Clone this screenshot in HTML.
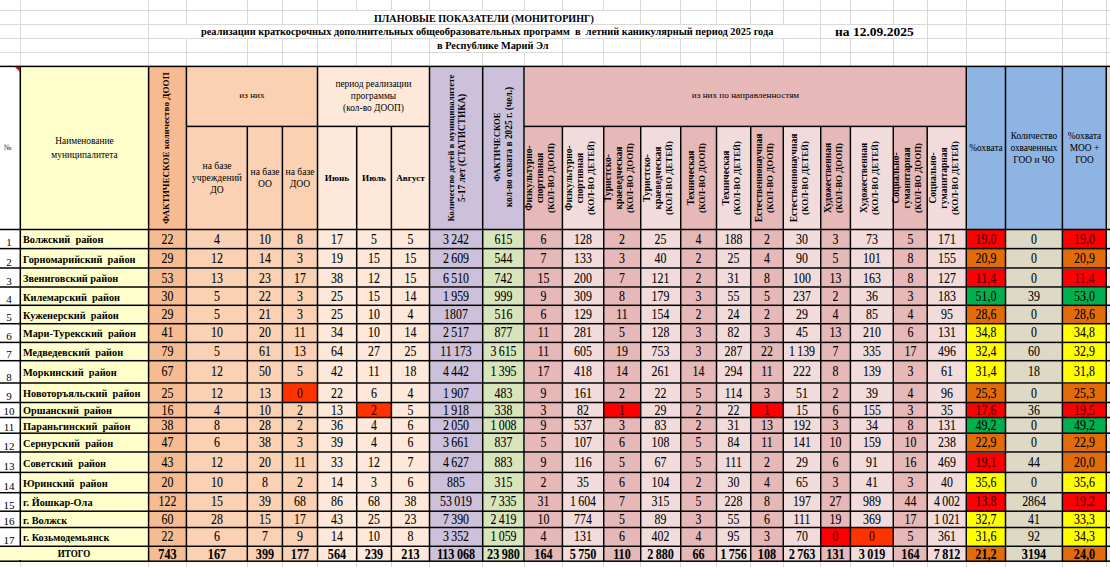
<!DOCTYPE html>
<html><head><meta charset="utf-8"><style>
html,body{margin:0;padding:0;background:#fff;}
body{width:1110px;height:567px;position:relative;overflow:hidden;font-family:"Liberation Serif",serif;color:#000;}
.r{position:absolute;}
.t{position:absolute;display:flex;align-items:center;white-space:nowrap;}
.t.c{justify-content:center;text-align:center;}
.t.ttl{font-weight:bold;display:block;line-height:12px;}
.t.d{justify-content:center;font-size:12.5px;-webkit-text-stroke:0.08px #000;transform:translateY(0.9px) scale(0.95,1.1);}
.t.d.b{font-weight:bold;font-size:12.8px;}
.t.nm{font-weight:bold;font-size:10.3px;}
.t.num{font-size:11px;}
.v{position:absolute;transform:translate(-50%,-50%) rotate(-90deg);white-space:nowrap;text-align:center;font-weight:bold;}
</style></head><body>
<div class="r" style="left:0px;top:10px;width:1110px;height:1px;background:#D9D9D9;"></div>
<div class="r" style="left:0px;top:24px;width:1110px;height:1px;background:#D9D9D9;"></div>
<div class="r" style="left:0px;top:38px;width:1110px;height:1px;background:#D9D9D9;"></div>
<div class="r" style="left:0px;top:52px;width:1110px;height:1px;background:#D9D9D9;"></div>
<div class="r" style="left:20px;top:0px;width:1px;height:66px;background:#D9D9D9;"></div>
<div class="r" style="left:148px;top:0px;width:1px;height:66px;background:#D9D9D9;"></div>
<div class="r" style="left:186px;top:0px;width:1px;height:66px;background:#D9D9D9;"></div>
<div class="r" style="left:247px;top:0px;width:1px;height:66px;background:#D9D9D9;"></div>
<div class="r" style="left:282px;top:0px;width:1px;height:66px;background:#D9D9D9;"></div>
<div class="r" style="left:317px;top:0px;width:1px;height:66px;background:#D9D9D9;"></div>
<div class="r" style="left:356px;top:0px;width:1px;height:66px;background:#D9D9D9;"></div>
<div class="r" style="left:391px;top:0px;width:1px;height:66px;background:#D9D9D9;"></div>
<div class="r" style="left:429px;top:0px;width:1px;height:66px;background:#D9D9D9;"></div>
<div class="r" style="left:482px;top:0px;width:1px;height:66px;background:#D9D9D9;"></div>
<div class="r" style="left:524px;top:0px;width:1px;height:66px;background:#D9D9D9;"></div>
<div class="r" style="left:562px;top:0px;width:1px;height:66px;background:#D9D9D9;"></div>
<div class="r" style="left:603px;top:0px;width:1px;height:66px;background:#D9D9D9;"></div>
<div class="r" style="left:640px;top:0px;width:1px;height:66px;background:#D9D9D9;"></div>
<div class="r" style="left:680px;top:0px;width:1px;height:66px;background:#D9D9D9;"></div>
<div class="r" style="left:716px;top:0px;width:1px;height:66px;background:#D9D9D9;"></div>
<div class="r" style="left:750px;top:0px;width:1px;height:66px;background:#D9D9D9;"></div>
<div class="r" style="left:783px;top:0px;width:1px;height:66px;background:#D9D9D9;"></div>
<div class="r" style="left:820px;top:0px;width:1px;height:66px;background:#D9D9D9;"></div>
<div class="r" style="left:850px;top:0px;width:1px;height:66px;background:#D9D9D9;"></div>
<div class="r" style="left:893px;top:0px;width:1px;height:66px;background:#D9D9D9;"></div>
<div class="r" style="left:927px;top:0px;width:1px;height:66px;background:#D9D9D9;"></div>
<div class="r" style="left:966px;top:0px;width:1px;height:66px;background:#D9D9D9;"></div>
<div class="r" style="left:1005px;top:0px;width:1px;height:66px;background:#D9D9D9;"></div>
<div class="r" style="left:1062px;top:0px;width:1px;height:66px;background:#D9D9D9;"></div>
<div class="r" style="left:1106px;top:0px;width:1px;height:66px;background:#D9D9D9;"></div>
<div class="r" style="left:20px;top:561px;width:1px;height:6px;background:#D9D9D9;"></div>
<div class="r" style="left:148px;top:561px;width:1px;height:6px;background:#D9D9D9;"></div>
<div class="r" style="left:186px;top:561px;width:1px;height:6px;background:#D9D9D9;"></div>
<div class="r" style="left:247px;top:561px;width:1px;height:6px;background:#D9D9D9;"></div>
<div class="r" style="left:282px;top:561px;width:1px;height:6px;background:#D9D9D9;"></div>
<div class="r" style="left:317px;top:561px;width:1px;height:6px;background:#D9D9D9;"></div>
<div class="r" style="left:356px;top:561px;width:1px;height:6px;background:#D9D9D9;"></div>
<div class="r" style="left:391px;top:561px;width:1px;height:6px;background:#D9D9D9;"></div>
<div class="r" style="left:429px;top:561px;width:1px;height:6px;background:#D9D9D9;"></div>
<div class="r" style="left:482px;top:561px;width:1px;height:6px;background:#D9D9D9;"></div>
<div class="r" style="left:524px;top:561px;width:1px;height:6px;background:#D9D9D9;"></div>
<div class="r" style="left:562px;top:561px;width:1px;height:6px;background:#D9D9D9;"></div>
<div class="r" style="left:603px;top:561px;width:1px;height:6px;background:#D9D9D9;"></div>
<div class="r" style="left:640px;top:561px;width:1px;height:6px;background:#D9D9D9;"></div>
<div class="r" style="left:680px;top:561px;width:1px;height:6px;background:#D9D9D9;"></div>
<div class="r" style="left:716px;top:561px;width:1px;height:6px;background:#D9D9D9;"></div>
<div class="r" style="left:750px;top:561px;width:1px;height:6px;background:#D9D9D9;"></div>
<div class="r" style="left:783px;top:561px;width:1px;height:6px;background:#D9D9D9;"></div>
<div class="r" style="left:820px;top:561px;width:1px;height:6px;background:#D9D9D9;"></div>
<div class="r" style="left:850px;top:561px;width:1px;height:6px;background:#D9D9D9;"></div>
<div class="r" style="left:893px;top:561px;width:1px;height:6px;background:#D9D9D9;"></div>
<div class="r" style="left:927px;top:561px;width:1px;height:6px;background:#D9D9D9;"></div>
<div class="r" style="left:966px;top:561px;width:1px;height:6px;background:#D9D9D9;"></div>
<div class="r" style="left:1005px;top:561px;width:1px;height:6px;background:#D9D9D9;"></div>
<div class="r" style="left:1062px;top:561px;width:1px;height:6px;background:#D9D9D9;"></div>
<div class="r" style="left:1106px;top:561px;width:1px;height:6px;background:#D9D9D9;"></div>
<div class="r" style="left:356px;top:11px;width:1px;height:13px;background:#fff;"></div>
<div class="r" style="left:391px;top:11px;width:1px;height:13px;background:#fff;"></div>
<div class="r" style="left:429px;top:11px;width:1px;height:13px;background:#fff;"></div>
<div class="r" style="left:482px;top:11px;width:1px;height:13px;background:#fff;"></div>
<div class="r" style="left:524px;top:11px;width:1px;height:13px;background:#fff;"></div>
<div class="r" style="left:562px;top:11px;width:1px;height:13px;background:#fff;"></div>
<div class="r" style="left:603px;top:11px;width:1px;height:13px;background:#fff;"></div>
<div class="r" style="left:186px;top:25px;width:1px;height:13px;background:#fff;"></div>
<div class="r" style="left:247px;top:25px;width:1px;height:13px;background:#fff;"></div>
<div class="r" style="left:282px;top:25px;width:1px;height:13px;background:#fff;"></div>
<div class="r" style="left:317px;top:25px;width:1px;height:13px;background:#fff;"></div>
<div class="r" style="left:356px;top:25px;width:1px;height:13px;background:#fff;"></div>
<div class="r" style="left:391px;top:25px;width:1px;height:13px;background:#fff;"></div>
<div class="r" style="left:429px;top:25px;width:1px;height:13px;background:#fff;"></div>
<div class="r" style="left:482px;top:25px;width:1px;height:13px;background:#fff;"></div>
<div class="r" style="left:524px;top:25px;width:1px;height:13px;background:#fff;"></div>
<div class="r" style="left:562px;top:25px;width:1px;height:13px;background:#fff;"></div>
<div class="r" style="left:603px;top:25px;width:1px;height:13px;background:#fff;"></div>
<div class="r" style="left:640px;top:25px;width:1px;height:13px;background:#fff;"></div>
<div class="r" style="left:680px;top:25px;width:1px;height:13px;background:#fff;"></div>
<div class="r" style="left:716px;top:25px;width:1px;height:13px;background:#fff;"></div>
<div class="r" style="left:750px;top:25px;width:1px;height:13px;background:#fff;"></div>
<div class="r" style="left:783px;top:25px;width:1px;height:13px;background:#fff;"></div>
<div class="r" style="left:850px;top:25px;width:1px;height:13px;background:#fff;"></div>
<div class="r" style="left:893px;top:25px;width:1px;height:13px;background:#fff;"></div>
<div class="r" style="left:482px;top:39px;width:1px;height:13px;background:#fff;"></div>
<div class="r" style="left:524px;top:39px;width:1px;height:13px;background:#fff;"></div>
<div class="t ttl" style="left:0px;top:13px;width:1110px;height:12px;left:374px;width:auto;font-size:10.1px;">ПЛАНОВЫЕ ПОКАЗАТЕЛИ (МОНИТОРИНГ)</div>
<div class="t ttl" style="left:0px;top:26px;width:1110px;height:12px;left:201px;width:auto;font-size:10.37px;">реализации краткосрочных дополнительных общеобразовательных программ&nbsp; в&nbsp; летний каникулярный период 2025 года</div>
<div class="t ttl" style="left:0px;top:40px;width:1110px;height:12px;left:437px;width:auto;font-size:10.3px;">в Республике Марий Эл</div>
<div class="t ttl" style="left:0px;top:26px;width:1110px;height:16px;left:835px;width:auto;font-size:13.5px;">на 12.09.2025</div>
<div class="r" style="left:1px;top:67px;width:19px;height:162px;background:#FFFFFF;"></div>
<div class="r" style="left:21px;top:67px;width:127px;height:162px;background:#FFFFCC;"></div>
<div class="r" style="left:149px;top:67px;width:37px;height:162px;background:#F6BB91;"></div>
<div class="r" style="left:187px;top:67px;width:130px;height:59px;background:#FAD1B2;"></div>
<div class="r" style="left:187px;top:127px;width:60px;height:102px;background:#FAD1B2;"></div>
<div class="r" style="left:248px;top:127px;width:34px;height:102px;background:#FAD1B2;"></div>
<div class="r" style="left:283px;top:127px;width:34px;height:102px;background:#FAD1B2;"></div>
<div class="r" style="left:318px;top:67px;width:111px;height:59px;background:#FDE8D9;"></div>
<div class="r" style="left:318px;top:127px;width:38px;height:102px;background:#FDE8D9;"></div>
<div class="r" style="left:357px;top:127px;width:34px;height:102px;background:#FDE8D9;"></div>
<div class="r" style="left:392px;top:127px;width:37px;height:102px;background:#FDE8D9;"></div>
<div class="r" style="left:430px;top:67px;width:52px;height:162px;background:#CCC0DA;"></div>
<div class="r" style="left:483px;top:67px;width:41px;height:162px;background:#CCC0DA;"></div>
<div class="r" style="left:525px;top:67px;width:441px;height:59px;background:#E6B8B7;"></div>
<div class="r" style="left:525px;top:127px;width:37px;height:102px;background:#E6B8B7;"></div>
<div class="r" style="left:563px;top:127px;width:40px;height:102px;background:#F2DCDB;"></div>
<div class="r" style="left:604px;top:127px;width:36px;height:102px;background:#E6B8B7;"></div>
<div class="r" style="left:641px;top:127px;width:39px;height:102px;background:#F2DCDB;"></div>
<div class="r" style="left:681px;top:127px;width:35px;height:102px;background:#E6B8B7;"></div>
<div class="r" style="left:717px;top:127px;width:33px;height:102px;background:#F2DCDB;"></div>
<div class="r" style="left:751px;top:127px;width:32px;height:102px;background:#E6B8B7;"></div>
<div class="r" style="left:784px;top:127px;width:36px;height:102px;background:#F2DCDB;"></div>
<div class="r" style="left:821px;top:127px;width:29px;height:102px;background:#E6B8B7;"></div>
<div class="r" style="left:851px;top:127px;width:42px;height:102px;background:#F2DCDB;"></div>
<div class="r" style="left:894px;top:127px;width:33px;height:102px;background:#E6B8B7;"></div>
<div class="r" style="left:928px;top:127px;width:38px;height:102px;background:#F2DCDB;"></div>
<div class="r" style="left:967px;top:67px;width:38px;height:162px;background:#8DB4E2;"></div>
<div class="r" style="left:1006px;top:67px;width:56px;height:162px;background:#8DB4E2;"></div>
<div class="r" style="left:1063px;top:67px;width:43px;height:162px;background:#8DB4E2;"></div>
<div class="t c" style="left:1px;top:141px;width:13px;height:12px;font-size:8px;color:#333;">№</div>
<div class="t c" style="left:21px;top:67px;width:127px;height:162px;font-size:9.4px;line-height:14px;">Наименование<br>муниципалитета</div>
<div class="t c" style="left:187px;top:65px;width:130px;height:59px;font-size:9.2px;">из них</div>
<div class="t c" style="left:318px;top:66px;width:111px;height:59px;font-size:9.4px;line-height:12px;">период реализации<br>программы<br>(кол-во ДООП)</div>
<div class="t c" style="left:187px;top:127px;width:60px;height:102px;font-size:9.6px;line-height:12px;">на базе<br>учреждений<br>ДО</div>
<div class="t c" style="left:248px;top:127px;width:34px;height:102px;font-size:9.6px;line-height:12px;">на базе<br>ОО</div>
<div class="t c" style="left:283px;top:127px;width:34px;height:102px;font-size:9.6px;line-height:12px;">на базе<br>ДОО</div>
<div class="t c" style="left:318px;top:127px;width:38px;height:102px;font-size:9.2px;"><b>Июнь</b></div>
<div class="t c" style="left:357px;top:127px;width:34px;height:102px;font-size:9.2px;"><b>Июль</b></div>
<div class="t c" style="left:392px;top:127px;width:37px;height:102px;font-size:9.2px;"><b>Август</b></div>
<div class="t c" style="left:525px;top:65px;width:441px;height:59px;font-size:9.2px;">из них по направленностям</div>
<div class="t c" style="left:967px;top:67px;width:38px;height:162px;font-size:9.4px;">%охвата</div>
<div class="t c" style="left:1006px;top:67px;width:56px;height:162px;font-size:9.4px;line-height:12px;">Количество<br>охваченных<br>ГОО и ЧО</div>
<div class="t c" style="left:1063px;top:67px;width:43px;height:162px;font-size:9.4px;line-height:12px;">%охвата<br>МОО +<br>ГОО</div>
<div class="v" style="left:167.5px;top:147.9px;font-size:9.1px;line-height:11px;margin-left:-1.5px;">ФАКТИЧЕСКОЕ количество ДООП</div>
<div class="v" style="left:456.1px;top:147.9px;font-size:9.4px;line-height:10.5px;"><span style="font-size:8.85px">Количество детей в муниципалитете</span><br>5-17 лет (СТАТИСТИКА)</div>
<div class="v" style="left:503.4px;top:147.9px;font-size:9.4px;line-height:12px;margin-top:-1px;"><span style="font-size:8.7px">ФАКТИЧЕСКОЕ</span><br>кол-во охвата в 2025 г. (чел.)</div>
<div class="v" style="left:543.2px;top:177.9px;font-size:8.9px;line-height:11.2px;margin-left:-1.8px;"><span style="font-size:9.5px">Физкультурно-<br>спортивная</span><br>(КОЛ-ВО ДООП)</div>
<div class="v" style="left:583.0px;top:177.9px;font-size:8.9px;line-height:11.2px;margin-left:-1.8px;"><span style="font-size:9.5px">Физкультурно-<br>спортивная</span><br>(КОЛ-ВО ДЕТЕЙ)</div>
<div class="v" style="left:622.2px;top:177.9px;font-size:8.9px;line-height:11.2px;margin-left:-1.8px;"><span style="font-size:9.5px">Туристско-<br>краеведческая</span><br>(КОЛ-ВО ДООП)</div>
<div class="v" style="left:660.7px;top:177.9px;font-size:8.9px;line-height:11.2px;margin-left:-1.8px;"><span style="font-size:9.5px">Туристско-<br>краеведческая</span><br>(КОЛ-ВО ДЕТЕЙ)</div>
<div class="v" style="left:698.6px;top:177.9px;font-size:8.9px;line-height:11.2px;margin-left:-1.8px;"><span style="font-size:9.5px">Техническая</span><br>(КОЛ-ВО ДООП)</div>
<div class="v" style="left:733.6px;top:177.9px;font-size:8.9px;line-height:11.2px;margin-left:-1.8px;"><span style="font-size:9.5px">Техническая</span><br>(КОЛ-ВО ДЕТЕЙ)</div>
<div class="v" style="left:767.0px;top:177.9px;font-size:8.9px;line-height:11.2px;margin-left:-1.8px;"><span style="font-size:9.5px">Естественнонаучная</span><br>(КОЛ-ВО ДООП)</div>
<div class="v" style="left:802.0px;top:177.9px;font-size:8.9px;line-height:11.2px;margin-left:-1.8px;"><span style="font-size:9.5px">Естественнонаучная</span><br>(КОЛ-ВО ДЕТЕЙ)</div>
<div class="v" style="left:835.5px;top:177.9px;font-size:8.9px;line-height:11.2px;margin-left:-1.8px;"><span style="font-size:9.5px">Художественная</span><br>(КОЛ-ВО ДООП)</div>
<div class="v" style="left:871.8px;top:177.9px;font-size:8.9px;line-height:11.2px;margin-left:-1.8px;"><span style="font-size:9.5px">Художественная</span><br>(КОЛ-ВО ДЕТЕЙ)</div>
<div class="v" style="left:910.2px;top:177.9px;font-size:8.9px;line-height:11.2px;margin-left:-1.8px;"><span style="font-size:9.5px">Социально-<br>гуманитарная</span><br>(КОЛ-ВО ДООП)</div>
<div class="v" style="left:946.8px;top:177.9px;font-size:8.9px;line-height:11.2px;margin-left:-1.8px;"><span style="font-size:9.5px">Социально-<br>гуманитарная</span><br>(КОЛ-ВО ДЕТЕЙ)</div>
<div class="r" style="left:1px;top:230px;width:19px;height:18px;background:#FFFFFF;"></div>
<div class="r" style="left:21px;top:230px;width:127px;height:18px;background:#FFFFCC;"></div>
<div class="r" style="left:149px;top:230px;width:37px;height:18px;background:#F6BB91;"></div>
<div class="r" style="left:187px;top:230px;width:60px;height:18px;background:#FAD1B2;"></div>
<div class="r" style="left:248px;top:230px;width:34px;height:18px;background:#FAD1B2;"></div>
<div class="r" style="left:283px;top:230px;width:34px;height:18px;background:#FAD1B2;"></div>
<div class="r" style="left:318px;top:230px;width:38px;height:18px;background:#FDE8D9;"></div>
<div class="r" style="left:357px;top:230px;width:34px;height:18px;background:#FDE8D9;"></div>
<div class="r" style="left:392px;top:230px;width:37px;height:18px;background:#FDE8D9;"></div>
<div class="r" style="left:430px;top:230px;width:52px;height:18px;background:#CCC0DA;"></div>
<div class="r" style="left:483px;top:230px;width:41px;height:18px;background:#D8E4BC;"></div>
<div class="r" style="left:525px;top:230px;width:37px;height:18px;background:#E6B8B7;"></div>
<div class="r" style="left:563px;top:230px;width:40px;height:18px;background:#F2DCDB;"></div>
<div class="r" style="left:604px;top:230px;width:36px;height:18px;background:#E6B8B7;"></div>
<div class="r" style="left:641px;top:230px;width:39px;height:18px;background:#F2DCDB;"></div>
<div class="r" style="left:681px;top:230px;width:35px;height:18px;background:#E6B8B7;"></div>
<div class="r" style="left:717px;top:230px;width:33px;height:18px;background:#F2DCDB;"></div>
<div class="r" style="left:751px;top:230px;width:32px;height:18px;background:#E6B8B7;"></div>
<div class="r" style="left:784px;top:230px;width:36px;height:18px;background:#F2DCDB;"></div>
<div class="r" style="left:821px;top:230px;width:29px;height:18px;background:#E6B8B7;"></div>
<div class="r" style="left:851px;top:230px;width:42px;height:18px;background:#F2DCDB;"></div>
<div class="r" style="left:894px;top:230px;width:33px;height:18px;background:#E6B8B7;"></div>
<div class="r" style="left:928px;top:230px;width:38px;height:18px;background:#F2DCDB;"></div>
<div class="r" style="left:967px;top:230px;width:38px;height:18px;background:#FF0000;"></div>
<div class="r" style="left:1006px;top:230px;width:56px;height:18px;background:#DDD9C4;"></div>
<div class="r" style="left:1063px;top:230px;width:43px;height:18px;background:#FF0000;"></div>
<div class="t num" style="left:0px;top:230px;width:18px;height:18px;align-items:flex-end;justify-content:center;padding-bottom:0px;font-size:11px;">1</div>
<div class="t nm" style="left:23px;top:230.8px;width:125px;height:18.0px;">Волжский&nbsp; район</div>
<div class="t d" style="left:149px;top:230.0px;width:37px;height:18.099999999999994px;">22</div>
<div class="t d" style="left:187px;top:230.0px;width:60px;height:18.099999999999994px;">4</div>
<div class="t d" style="left:248px;top:230.0px;width:34px;height:18.099999999999994px;">10</div>
<div class="t d" style="left:283px;top:230.0px;width:34px;height:18.099999999999994px;">8</div>
<div class="t d" style="left:318px;top:230.0px;width:38px;height:18.099999999999994px;">17</div>
<div class="t d" style="left:357px;top:230.0px;width:34px;height:18.099999999999994px;">5</div>
<div class="t d" style="left:392px;top:230.0px;width:37px;height:18.099999999999994px;">5</div>
<div class="t d" style="left:430px;top:230.0px;width:52px;height:18.099999999999994px;">3&#8239;242</div>
<div class="t d" style="left:483px;top:230.0px;width:41px;height:18.099999999999994px;">615</div>
<div class="t d" style="left:525px;top:230.0px;width:37px;height:18.099999999999994px;">6</div>
<div class="t d" style="left:563px;top:230.0px;width:40px;height:18.099999999999994px;">128</div>
<div class="t d" style="left:604px;top:230.0px;width:36px;height:18.099999999999994px;">2</div>
<div class="t d" style="left:641px;top:230.0px;width:39px;height:18.099999999999994px;">25</div>
<div class="t d" style="left:681px;top:230.0px;width:35px;height:18.099999999999994px;">4</div>
<div class="t d" style="left:717px;top:230.0px;width:33px;height:18.099999999999994px;">188</div>
<div class="t d" style="left:751px;top:230.0px;width:32px;height:18.099999999999994px;">2</div>
<div class="t d" style="left:784px;top:230.0px;width:36px;height:18.099999999999994px;">30</div>
<div class="t d" style="left:821px;top:230.0px;width:29px;height:18.099999999999994px;">3</div>
<div class="t d" style="left:851px;top:230.0px;width:42px;height:18.099999999999994px;">73</div>
<div class="t d" style="left:894px;top:230.0px;width:33px;height:18.099999999999994px;">5</div>
<div class="t d" style="left:928px;top:230.0px;width:38px;height:18.099999999999994px;">171</div>
<div class="t d" style="left:967px;top:230.0px;width:38px;height:18.099999999999994px;color:#4a0000;">19,0</div>
<div class="t d" style="left:1006px;top:230.0px;width:56px;height:18.099999999999994px;">0</div>
<div class="t d" style="left:1063px;top:230.0px;width:43px;height:18.099999999999994px;color:#4a0000;">19,0</div>
<div class="r" style="left:1px;top:249px;width:19px;height:19px;background:#FFFFFF;"></div>
<div class="r" style="left:21px;top:249px;width:127px;height:19px;background:#FFFFCC;"></div>
<div class="r" style="left:149px;top:249px;width:37px;height:19px;background:#F6BB91;"></div>
<div class="r" style="left:187px;top:249px;width:60px;height:19px;background:#FAD1B2;"></div>
<div class="r" style="left:248px;top:249px;width:34px;height:19px;background:#FAD1B2;"></div>
<div class="r" style="left:283px;top:249px;width:34px;height:19px;background:#FAD1B2;"></div>
<div class="r" style="left:318px;top:249px;width:38px;height:19px;background:#FDE8D9;"></div>
<div class="r" style="left:357px;top:249px;width:34px;height:19px;background:#FDE8D9;"></div>
<div class="r" style="left:392px;top:249px;width:37px;height:19px;background:#FDE8D9;"></div>
<div class="r" style="left:430px;top:249px;width:52px;height:19px;background:#CCC0DA;"></div>
<div class="r" style="left:483px;top:249px;width:41px;height:19px;background:#D8E4BC;"></div>
<div class="r" style="left:525px;top:249px;width:37px;height:19px;background:#E6B8B7;"></div>
<div class="r" style="left:563px;top:249px;width:40px;height:19px;background:#F2DCDB;"></div>
<div class="r" style="left:604px;top:249px;width:36px;height:19px;background:#E6B8B7;"></div>
<div class="r" style="left:641px;top:249px;width:39px;height:19px;background:#F2DCDB;"></div>
<div class="r" style="left:681px;top:249px;width:35px;height:19px;background:#E6B8B7;"></div>
<div class="r" style="left:717px;top:249px;width:33px;height:19px;background:#F2DCDB;"></div>
<div class="r" style="left:751px;top:249px;width:32px;height:19px;background:#E6B8B7;"></div>
<div class="r" style="left:784px;top:249px;width:36px;height:19px;background:#F2DCDB;"></div>
<div class="r" style="left:821px;top:249px;width:29px;height:19px;background:#E6B8B7;"></div>
<div class="r" style="left:851px;top:249px;width:42px;height:19px;background:#F2DCDB;"></div>
<div class="r" style="left:894px;top:249px;width:33px;height:19px;background:#E6B8B7;"></div>
<div class="r" style="left:928px;top:249px;width:38px;height:19px;background:#F2DCDB;"></div>
<div class="r" style="left:967px;top:249px;width:38px;height:19px;background:#E26B0A;"></div>
<div class="r" style="left:1006px;top:249px;width:56px;height:19px;background:#DDD9C4;"></div>
<div class="r" style="left:1063px;top:249px;width:43px;height:19px;background:#E26B0A;"></div>
<div class="t num" style="left:0px;top:249px;width:18px;height:19px;align-items:flex-end;justify-content:center;padding-bottom:0px;font-size:11px;">2</div>
<div class="t nm" style="left:23px;top:249.8px;width:125px;height:19.0px;">Горномарийский&nbsp; район</div>
<div class="t d" style="left:149px;top:249.1px;width:37px;height:18.400000000000006px;">29</div>
<div class="t d" style="left:187px;top:249.1px;width:60px;height:18.400000000000006px;">12</div>
<div class="t d" style="left:248px;top:249.1px;width:34px;height:18.400000000000006px;">14</div>
<div class="t d" style="left:283px;top:249.1px;width:34px;height:18.400000000000006px;">3</div>
<div class="t d" style="left:318px;top:249.1px;width:38px;height:18.400000000000006px;">19</div>
<div class="t d" style="left:357px;top:249.1px;width:34px;height:18.400000000000006px;">15</div>
<div class="t d" style="left:392px;top:249.1px;width:37px;height:18.400000000000006px;">15</div>
<div class="t d" style="left:430px;top:249.1px;width:52px;height:18.400000000000006px;">2&#8239;609</div>
<div class="t d" style="left:483px;top:249.1px;width:41px;height:18.400000000000006px;">544</div>
<div class="t d" style="left:525px;top:249.1px;width:37px;height:18.400000000000006px;">7</div>
<div class="t d" style="left:563px;top:249.1px;width:40px;height:18.400000000000006px;">133</div>
<div class="t d" style="left:604px;top:249.1px;width:36px;height:18.400000000000006px;">3</div>
<div class="t d" style="left:641px;top:249.1px;width:39px;height:18.400000000000006px;">40</div>
<div class="t d" style="left:681px;top:249.1px;width:35px;height:18.400000000000006px;">2</div>
<div class="t d" style="left:717px;top:249.1px;width:33px;height:18.400000000000006px;">25</div>
<div class="t d" style="left:751px;top:249.1px;width:32px;height:18.400000000000006px;">4</div>
<div class="t d" style="left:784px;top:249.1px;width:36px;height:18.400000000000006px;">90</div>
<div class="t d" style="left:821px;top:249.1px;width:29px;height:18.400000000000006px;">5</div>
<div class="t d" style="left:851px;top:249.1px;width:42px;height:18.400000000000006px;">101</div>
<div class="t d" style="left:894px;top:249.1px;width:33px;height:18.400000000000006px;">8</div>
<div class="t d" style="left:928px;top:249.1px;width:38px;height:18.400000000000006px;">155</div>
<div class="t d" style="left:967px;top:249.1px;width:38px;height:18.400000000000006px;">20,9</div>
<div class="t d" style="left:1006px;top:249.1px;width:56px;height:18.400000000000006px;">0</div>
<div class="t d" style="left:1063px;top:249.1px;width:43px;height:18.400000000000006px;">20,9</div>
<div class="r" style="left:1px;top:269px;width:19px;height:18px;background:#FFFFFF;"></div>
<div class="r" style="left:21px;top:269px;width:127px;height:18px;background:#FFFFCC;"></div>
<div class="r" style="left:149px;top:269px;width:37px;height:18px;background:#F6BB91;"></div>
<div class="r" style="left:187px;top:269px;width:60px;height:18px;background:#FAD1B2;"></div>
<div class="r" style="left:248px;top:269px;width:34px;height:18px;background:#FAD1B2;"></div>
<div class="r" style="left:283px;top:269px;width:34px;height:18px;background:#FAD1B2;"></div>
<div class="r" style="left:318px;top:269px;width:38px;height:18px;background:#FDE8D9;"></div>
<div class="r" style="left:357px;top:269px;width:34px;height:18px;background:#FDE8D9;"></div>
<div class="r" style="left:392px;top:269px;width:37px;height:18px;background:#FDE8D9;"></div>
<div class="r" style="left:430px;top:269px;width:52px;height:18px;background:#CCC0DA;"></div>
<div class="r" style="left:483px;top:269px;width:41px;height:18px;background:#D8E4BC;"></div>
<div class="r" style="left:525px;top:269px;width:37px;height:18px;background:#E6B8B7;"></div>
<div class="r" style="left:563px;top:269px;width:40px;height:18px;background:#F2DCDB;"></div>
<div class="r" style="left:604px;top:269px;width:36px;height:18px;background:#E6B8B7;"></div>
<div class="r" style="left:641px;top:269px;width:39px;height:18px;background:#F2DCDB;"></div>
<div class="r" style="left:681px;top:269px;width:35px;height:18px;background:#E6B8B7;"></div>
<div class="r" style="left:717px;top:269px;width:33px;height:18px;background:#F2DCDB;"></div>
<div class="r" style="left:751px;top:269px;width:32px;height:18px;background:#E6B8B7;"></div>
<div class="r" style="left:784px;top:269px;width:36px;height:18px;background:#F2DCDB;"></div>
<div class="r" style="left:821px;top:269px;width:29px;height:18px;background:#E6B8B7;"></div>
<div class="r" style="left:851px;top:269px;width:42px;height:18px;background:#F2DCDB;"></div>
<div class="r" style="left:894px;top:269px;width:33px;height:18px;background:#E6B8B7;"></div>
<div class="r" style="left:928px;top:269px;width:38px;height:18px;background:#F2DCDB;"></div>
<div class="r" style="left:967px;top:269px;width:38px;height:18px;background:#FF0000;"></div>
<div class="r" style="left:1006px;top:269px;width:56px;height:18px;background:#DDD9C4;"></div>
<div class="r" style="left:1063px;top:269px;width:43px;height:18px;background:#FF0000;"></div>
<div class="t num" style="left:0px;top:269px;width:18px;height:18px;align-items:flex-end;justify-content:center;padding-bottom:0px;font-size:11px;">3</div>
<div class="t nm" style="left:23px;top:269.8px;width:125px;height:18.0px;">Звениговский район</div>
<div class="t d" style="left:149px;top:268.5px;width:37px;height:18.0px;">53</div>
<div class="t d" style="left:187px;top:268.5px;width:60px;height:18.0px;">13</div>
<div class="t d" style="left:248px;top:268.5px;width:34px;height:18.0px;">23</div>
<div class="t d" style="left:283px;top:268.5px;width:34px;height:18.0px;">17</div>
<div class="t d" style="left:318px;top:268.5px;width:38px;height:18.0px;">38</div>
<div class="t d" style="left:357px;top:268.5px;width:34px;height:18.0px;">12</div>
<div class="t d" style="left:392px;top:268.5px;width:37px;height:18.0px;">15</div>
<div class="t d" style="left:430px;top:268.5px;width:52px;height:18.0px;">6&#8239;510</div>
<div class="t d" style="left:483px;top:268.5px;width:41px;height:18.0px;">742</div>
<div class="t d" style="left:525px;top:268.5px;width:37px;height:18.0px;">15</div>
<div class="t d" style="left:563px;top:268.5px;width:40px;height:18.0px;">200</div>
<div class="t d" style="left:604px;top:268.5px;width:36px;height:18.0px;">7</div>
<div class="t d" style="left:641px;top:268.5px;width:39px;height:18.0px;">121</div>
<div class="t d" style="left:681px;top:268.5px;width:35px;height:18.0px;">2</div>
<div class="t d" style="left:717px;top:268.5px;width:33px;height:18.0px;">31</div>
<div class="t d" style="left:751px;top:268.5px;width:32px;height:18.0px;">8</div>
<div class="t d" style="left:784px;top:268.5px;width:36px;height:18.0px;">100</div>
<div class="t d" style="left:821px;top:268.5px;width:29px;height:18.0px;">13</div>
<div class="t d" style="left:851px;top:268.5px;width:42px;height:18.0px;">163</div>
<div class="t d" style="left:894px;top:268.5px;width:33px;height:18.0px;">8</div>
<div class="t d" style="left:928px;top:268.5px;width:38px;height:18.0px;">127</div>
<div class="t d" style="left:967px;top:268.5px;width:38px;height:18.0px;color:#4a0000;">11,4</div>
<div class="t d" style="left:1006px;top:268.5px;width:56px;height:18.0px;">0</div>
<div class="t d" style="left:1063px;top:268.5px;width:43px;height:18.0px;color:#4a0000;">11,4</div>
<div class="r" style="left:1px;top:288px;width:19px;height:17px;background:#FFFFFF;"></div>
<div class="r" style="left:21px;top:288px;width:127px;height:17px;background:#FFFFCC;"></div>
<div class="r" style="left:149px;top:288px;width:37px;height:17px;background:#F6BB91;"></div>
<div class="r" style="left:187px;top:288px;width:60px;height:17px;background:#FAD1B2;"></div>
<div class="r" style="left:248px;top:288px;width:34px;height:17px;background:#FAD1B2;"></div>
<div class="r" style="left:283px;top:288px;width:34px;height:17px;background:#FAD1B2;"></div>
<div class="r" style="left:318px;top:288px;width:38px;height:17px;background:#FDE8D9;"></div>
<div class="r" style="left:357px;top:288px;width:34px;height:17px;background:#FDE8D9;"></div>
<div class="r" style="left:392px;top:288px;width:37px;height:17px;background:#FDE8D9;"></div>
<div class="r" style="left:430px;top:288px;width:52px;height:17px;background:#CCC0DA;"></div>
<div class="r" style="left:483px;top:288px;width:41px;height:17px;background:#D8E4BC;"></div>
<div class="r" style="left:525px;top:288px;width:37px;height:17px;background:#E6B8B7;"></div>
<div class="r" style="left:563px;top:288px;width:40px;height:17px;background:#F2DCDB;"></div>
<div class="r" style="left:604px;top:288px;width:36px;height:17px;background:#E6B8B7;"></div>
<div class="r" style="left:641px;top:288px;width:39px;height:17px;background:#F2DCDB;"></div>
<div class="r" style="left:681px;top:288px;width:35px;height:17px;background:#E6B8B7;"></div>
<div class="r" style="left:717px;top:288px;width:33px;height:17px;background:#F2DCDB;"></div>
<div class="r" style="left:751px;top:288px;width:32px;height:17px;background:#E6B8B7;"></div>
<div class="r" style="left:784px;top:288px;width:36px;height:17px;background:#F2DCDB;"></div>
<div class="r" style="left:821px;top:288px;width:29px;height:17px;background:#E6B8B7;"></div>
<div class="r" style="left:851px;top:288px;width:42px;height:17px;background:#F2DCDB;"></div>
<div class="r" style="left:894px;top:288px;width:33px;height:17px;background:#E6B8B7;"></div>
<div class="r" style="left:928px;top:288px;width:38px;height:17px;background:#F2DCDB;"></div>
<div class="r" style="left:967px;top:288px;width:38px;height:17px;background:#00B050;"></div>
<div class="r" style="left:1006px;top:288px;width:56px;height:17px;background:#DDD9C4;"></div>
<div class="r" style="left:1063px;top:288px;width:43px;height:17px;background:#00B050;"></div>
<div class="t num" style="left:0px;top:288px;width:18px;height:17px;align-items:flex-end;justify-content:center;padding-bottom:0px;font-size:11px;">4</div>
<div class="t nm" style="left:23px;top:288.8px;width:125px;height:17.0px;">Килемарский&nbsp; район</div>
<div class="t d" style="left:149px;top:287.5px;width:37px;height:17.30000000000001px;">30</div>
<div class="t d" style="left:187px;top:287.5px;width:60px;height:17.30000000000001px;">5</div>
<div class="t d" style="left:248px;top:287.5px;width:34px;height:17.30000000000001px;">22</div>
<div class="t d" style="left:283px;top:287.5px;width:34px;height:17.30000000000001px;">3</div>
<div class="t d" style="left:318px;top:287.5px;width:38px;height:17.30000000000001px;">25</div>
<div class="t d" style="left:357px;top:287.5px;width:34px;height:17.30000000000001px;">15</div>
<div class="t d" style="left:392px;top:287.5px;width:37px;height:17.30000000000001px;">14</div>
<div class="t d" style="left:430px;top:287.5px;width:52px;height:17.30000000000001px;">1&#8239;959</div>
<div class="t d" style="left:483px;top:287.5px;width:41px;height:17.30000000000001px;">999</div>
<div class="t d" style="left:525px;top:287.5px;width:37px;height:17.30000000000001px;">9</div>
<div class="t d" style="left:563px;top:287.5px;width:40px;height:17.30000000000001px;">309</div>
<div class="t d" style="left:604px;top:287.5px;width:36px;height:17.30000000000001px;">8</div>
<div class="t d" style="left:641px;top:287.5px;width:39px;height:17.30000000000001px;">179</div>
<div class="t d" style="left:681px;top:287.5px;width:35px;height:17.30000000000001px;">3</div>
<div class="t d" style="left:717px;top:287.5px;width:33px;height:17.30000000000001px;">55</div>
<div class="t d" style="left:751px;top:287.5px;width:32px;height:17.30000000000001px;">5</div>
<div class="t d" style="left:784px;top:287.5px;width:36px;height:17.30000000000001px;">237</div>
<div class="t d" style="left:821px;top:287.5px;width:29px;height:17.30000000000001px;">2</div>
<div class="t d" style="left:851px;top:287.5px;width:42px;height:17.30000000000001px;">36</div>
<div class="t d" style="left:894px;top:287.5px;width:33px;height:17.30000000000001px;">3</div>
<div class="t d" style="left:928px;top:287.5px;width:38px;height:17.30000000000001px;">183</div>
<div class="t d" style="left:967px;top:287.5px;width:38px;height:17.30000000000001px;">51,0</div>
<div class="t d" style="left:1006px;top:287.5px;width:56px;height:17.30000000000001px;">39</div>
<div class="t d" style="left:1063px;top:287.5px;width:43px;height:17.30000000000001px;">53,0</div>
<div class="r" style="left:1px;top:306px;width:19px;height:17px;background:#FFFFFF;"></div>
<div class="r" style="left:21px;top:306px;width:127px;height:17px;background:#FFFFCC;"></div>
<div class="r" style="left:149px;top:306px;width:37px;height:17px;background:#F6BB91;"></div>
<div class="r" style="left:187px;top:306px;width:60px;height:17px;background:#FAD1B2;"></div>
<div class="r" style="left:248px;top:306px;width:34px;height:17px;background:#FAD1B2;"></div>
<div class="r" style="left:283px;top:306px;width:34px;height:17px;background:#FAD1B2;"></div>
<div class="r" style="left:318px;top:306px;width:38px;height:17px;background:#FDE8D9;"></div>
<div class="r" style="left:357px;top:306px;width:34px;height:17px;background:#FDE8D9;"></div>
<div class="r" style="left:392px;top:306px;width:37px;height:17px;background:#FDE8D9;"></div>
<div class="r" style="left:430px;top:306px;width:52px;height:17px;background:#CCC0DA;"></div>
<div class="r" style="left:483px;top:306px;width:41px;height:17px;background:#D8E4BC;"></div>
<div class="r" style="left:525px;top:306px;width:37px;height:17px;background:#E6B8B7;"></div>
<div class="r" style="left:563px;top:306px;width:40px;height:17px;background:#F2DCDB;"></div>
<div class="r" style="left:604px;top:306px;width:36px;height:17px;background:#E6B8B7;"></div>
<div class="r" style="left:641px;top:306px;width:39px;height:17px;background:#F2DCDB;"></div>
<div class="r" style="left:681px;top:306px;width:35px;height:17px;background:#E6B8B7;"></div>
<div class="r" style="left:717px;top:306px;width:33px;height:17px;background:#F2DCDB;"></div>
<div class="r" style="left:751px;top:306px;width:32px;height:17px;background:#E6B8B7;"></div>
<div class="r" style="left:784px;top:306px;width:36px;height:17px;background:#F2DCDB;"></div>
<div class="r" style="left:821px;top:306px;width:29px;height:17px;background:#E6B8B7;"></div>
<div class="r" style="left:851px;top:306px;width:42px;height:17px;background:#F2DCDB;"></div>
<div class="r" style="left:894px;top:306px;width:33px;height:17px;background:#E6B8B7;"></div>
<div class="r" style="left:928px;top:306px;width:38px;height:17px;background:#F2DCDB;"></div>
<div class="r" style="left:967px;top:306px;width:38px;height:17px;background:#E26B0A;"></div>
<div class="r" style="left:1006px;top:306px;width:56px;height:17px;background:#DDD9C4;"></div>
<div class="r" style="left:1063px;top:306px;width:43px;height:17px;background:#E26B0A;"></div>
<div class="t num" style="left:0px;top:306px;width:18px;height:17px;align-items:flex-end;justify-content:center;padding-bottom:0px;font-size:11px;">5</div>
<div class="t nm" style="left:23px;top:306.8px;width:125px;height:17.0px;">Куженерский&nbsp; район</div>
<div class="t d" style="left:149px;top:305.8px;width:37px;height:17.399999999999977px;">29</div>
<div class="t d" style="left:187px;top:305.8px;width:60px;height:17.399999999999977px;">5</div>
<div class="t d" style="left:248px;top:305.8px;width:34px;height:17.399999999999977px;">21</div>
<div class="t d" style="left:283px;top:305.8px;width:34px;height:17.399999999999977px;">3</div>
<div class="t d" style="left:318px;top:305.8px;width:38px;height:17.399999999999977px;">25</div>
<div class="t d" style="left:357px;top:305.8px;width:34px;height:17.399999999999977px;">10</div>
<div class="t d" style="left:392px;top:305.8px;width:37px;height:17.399999999999977px;">4</div>
<div class="t d" style="left:430px;top:305.8px;width:52px;height:17.399999999999977px;">1807</div>
<div class="t d" style="left:483px;top:305.8px;width:41px;height:17.399999999999977px;">516</div>
<div class="t d" style="left:525px;top:305.8px;width:37px;height:17.399999999999977px;">6</div>
<div class="t d" style="left:563px;top:305.8px;width:40px;height:17.399999999999977px;">129</div>
<div class="t d" style="left:604px;top:305.8px;width:36px;height:17.399999999999977px;">11</div>
<div class="t d" style="left:641px;top:305.8px;width:39px;height:17.399999999999977px;">154</div>
<div class="t d" style="left:681px;top:305.8px;width:35px;height:17.399999999999977px;">2</div>
<div class="t d" style="left:717px;top:305.8px;width:33px;height:17.399999999999977px;">24</div>
<div class="t d" style="left:751px;top:305.8px;width:32px;height:17.399999999999977px;">2</div>
<div class="t d" style="left:784px;top:305.8px;width:36px;height:17.399999999999977px;">29</div>
<div class="t d" style="left:821px;top:305.8px;width:29px;height:17.399999999999977px;">4</div>
<div class="t d" style="left:851px;top:305.8px;width:42px;height:17.399999999999977px;">85</div>
<div class="t d" style="left:894px;top:305.8px;width:33px;height:17.399999999999977px;">4</div>
<div class="t d" style="left:928px;top:305.8px;width:38px;height:17.399999999999977px;">95</div>
<div class="t d" style="left:967px;top:305.8px;width:38px;height:17.399999999999977px;">28,6</div>
<div class="t d" style="left:1006px;top:305.8px;width:56px;height:17.399999999999977px;">0</div>
<div class="t d" style="left:1063px;top:305.8px;width:43px;height:17.399999999999977px;">28,6</div>
<div class="r" style="left:1px;top:324px;width:19px;height:18px;background:#FFFFFF;"></div>
<div class="r" style="left:21px;top:324px;width:127px;height:18px;background:#FFFFCC;"></div>
<div class="r" style="left:149px;top:324px;width:37px;height:18px;background:#F6BB91;"></div>
<div class="r" style="left:187px;top:324px;width:60px;height:18px;background:#FAD1B2;"></div>
<div class="r" style="left:248px;top:324px;width:34px;height:18px;background:#FAD1B2;"></div>
<div class="r" style="left:283px;top:324px;width:34px;height:18px;background:#FAD1B2;"></div>
<div class="r" style="left:318px;top:324px;width:38px;height:18px;background:#FDE8D9;"></div>
<div class="r" style="left:357px;top:324px;width:34px;height:18px;background:#FDE8D9;"></div>
<div class="r" style="left:392px;top:324px;width:37px;height:18px;background:#FDE8D9;"></div>
<div class="r" style="left:430px;top:324px;width:52px;height:18px;background:#CCC0DA;"></div>
<div class="r" style="left:483px;top:324px;width:41px;height:18px;background:#D8E4BC;"></div>
<div class="r" style="left:525px;top:324px;width:37px;height:18px;background:#E6B8B7;"></div>
<div class="r" style="left:563px;top:324px;width:40px;height:18px;background:#F2DCDB;"></div>
<div class="r" style="left:604px;top:324px;width:36px;height:18px;background:#E6B8B7;"></div>
<div class="r" style="left:641px;top:324px;width:39px;height:18px;background:#F2DCDB;"></div>
<div class="r" style="left:681px;top:324px;width:35px;height:18px;background:#E6B8B7;"></div>
<div class="r" style="left:717px;top:324px;width:33px;height:18px;background:#F2DCDB;"></div>
<div class="r" style="left:751px;top:324px;width:32px;height:18px;background:#E6B8B7;"></div>
<div class="r" style="left:784px;top:324px;width:36px;height:18px;background:#F2DCDB;"></div>
<div class="r" style="left:821px;top:324px;width:29px;height:18px;background:#E6B8B7;"></div>
<div class="r" style="left:851px;top:324px;width:42px;height:18px;background:#F2DCDB;"></div>
<div class="r" style="left:894px;top:324px;width:33px;height:18px;background:#E6B8B7;"></div>
<div class="r" style="left:928px;top:324px;width:38px;height:18px;background:#F2DCDB;"></div>
<div class="r" style="left:967px;top:324px;width:38px;height:18px;background:#FFFF00;"></div>
<div class="r" style="left:1006px;top:324px;width:56px;height:18px;background:#DDD9C4;"></div>
<div class="r" style="left:1063px;top:324px;width:43px;height:18px;background:#FFFF00;"></div>
<div class="t num" style="left:0px;top:324px;width:18px;height:18px;align-items:flex-end;justify-content:center;padding-bottom:0px;font-size:11px;">6</div>
<div class="t nm" style="left:23px;top:324.8px;width:125px;height:18.0px;">Мари-Турекский&nbsp; район</div>
<div class="t d" style="left:149px;top:324.2px;width:37px;height:17.69999999999999px;">41</div>
<div class="t d" style="left:187px;top:324.2px;width:60px;height:17.69999999999999px;">10</div>
<div class="t d" style="left:248px;top:324.2px;width:34px;height:17.69999999999999px;">20</div>
<div class="t d" style="left:283px;top:324.2px;width:34px;height:17.69999999999999px;">11</div>
<div class="t d" style="left:318px;top:324.2px;width:38px;height:17.69999999999999px;">34</div>
<div class="t d" style="left:357px;top:324.2px;width:34px;height:17.69999999999999px;">10</div>
<div class="t d" style="left:392px;top:324.2px;width:37px;height:17.69999999999999px;">14</div>
<div class="t d" style="left:430px;top:324.2px;width:52px;height:17.69999999999999px;">2&#8239;517</div>
<div class="t d" style="left:483px;top:324.2px;width:41px;height:17.69999999999999px;">877</div>
<div class="t d" style="left:525px;top:324.2px;width:37px;height:17.69999999999999px;">11</div>
<div class="t d" style="left:563px;top:324.2px;width:40px;height:17.69999999999999px;">281</div>
<div class="t d" style="left:604px;top:324.2px;width:36px;height:17.69999999999999px;">5</div>
<div class="t d" style="left:641px;top:324.2px;width:39px;height:17.69999999999999px;">128</div>
<div class="t d" style="left:681px;top:324.2px;width:35px;height:17.69999999999999px;">3</div>
<div class="t d" style="left:717px;top:324.2px;width:33px;height:17.69999999999999px;">82</div>
<div class="t d" style="left:751px;top:324.2px;width:32px;height:17.69999999999999px;">3</div>
<div class="t d" style="left:784px;top:324.2px;width:36px;height:17.69999999999999px;">45</div>
<div class="t d" style="left:821px;top:324.2px;width:29px;height:17.69999999999999px;">13</div>
<div class="t d" style="left:851px;top:324.2px;width:42px;height:17.69999999999999px;">210</div>
<div class="t d" style="left:894px;top:324.2px;width:33px;height:17.69999999999999px;">6</div>
<div class="t d" style="left:928px;top:324.2px;width:38px;height:17.69999999999999px;">131</div>
<div class="t d" style="left:967px;top:324.2px;width:38px;height:17.69999999999999px;">34,8</div>
<div class="t d" style="left:1006px;top:324.2px;width:56px;height:17.69999999999999px;">0</div>
<div class="t d" style="left:1063px;top:324.2px;width:43px;height:17.69999999999999px;">34,8</div>
<div class="r" style="left:1px;top:343px;width:19px;height:17px;background:#FFFFFF;"></div>
<div class="r" style="left:21px;top:343px;width:127px;height:17px;background:#FFFFCC;"></div>
<div class="r" style="left:149px;top:343px;width:37px;height:17px;background:#F6BB91;"></div>
<div class="r" style="left:187px;top:343px;width:60px;height:17px;background:#FAD1B2;"></div>
<div class="r" style="left:248px;top:343px;width:34px;height:17px;background:#FAD1B2;"></div>
<div class="r" style="left:283px;top:343px;width:34px;height:17px;background:#FAD1B2;"></div>
<div class="r" style="left:318px;top:343px;width:38px;height:17px;background:#FDE8D9;"></div>
<div class="r" style="left:357px;top:343px;width:34px;height:17px;background:#FDE8D9;"></div>
<div class="r" style="left:392px;top:343px;width:37px;height:17px;background:#FDE8D9;"></div>
<div class="r" style="left:430px;top:343px;width:52px;height:17px;background:#CCC0DA;"></div>
<div class="r" style="left:483px;top:343px;width:41px;height:17px;background:#D8E4BC;"></div>
<div class="r" style="left:525px;top:343px;width:37px;height:17px;background:#E6B8B7;"></div>
<div class="r" style="left:563px;top:343px;width:40px;height:17px;background:#F2DCDB;"></div>
<div class="r" style="left:604px;top:343px;width:36px;height:17px;background:#E6B8B7;"></div>
<div class="r" style="left:641px;top:343px;width:39px;height:17px;background:#F2DCDB;"></div>
<div class="r" style="left:681px;top:343px;width:35px;height:17px;background:#E6B8B7;"></div>
<div class="r" style="left:717px;top:343px;width:33px;height:17px;background:#F2DCDB;"></div>
<div class="r" style="left:751px;top:343px;width:32px;height:17px;background:#E6B8B7;"></div>
<div class="r" style="left:784px;top:343px;width:36px;height:17px;background:#F2DCDB;"></div>
<div class="r" style="left:821px;top:343px;width:29px;height:17px;background:#E6B8B7;"></div>
<div class="r" style="left:851px;top:343px;width:42px;height:17px;background:#F2DCDB;"></div>
<div class="r" style="left:894px;top:343px;width:33px;height:17px;background:#E6B8B7;"></div>
<div class="r" style="left:928px;top:343px;width:38px;height:17px;background:#F2DCDB;"></div>
<div class="r" style="left:967px;top:343px;width:38px;height:17px;background:#FFFF00;"></div>
<div class="r" style="left:1006px;top:343px;width:56px;height:17px;background:#DDD9C4;"></div>
<div class="r" style="left:1063px;top:343px;width:43px;height:17px;background:#FFFF00;"></div>
<div class="t num" style="left:0px;top:343px;width:18px;height:17px;align-items:flex-end;justify-content:center;padding-bottom:0px;font-size:11px;">7</div>
<div class="t nm" style="left:23px;top:343.8px;width:125px;height:17.0px;">Медведевский&nbsp; район</div>
<div class="t d" style="left:149px;top:342.9px;width:37px;height:17.30000000000001px;">79</div>
<div class="t d" style="left:187px;top:342.9px;width:60px;height:17.30000000000001px;">5</div>
<div class="t d" style="left:248px;top:342.9px;width:34px;height:17.30000000000001px;">61</div>
<div class="t d" style="left:283px;top:342.9px;width:34px;height:17.30000000000001px;">13</div>
<div class="t d" style="left:318px;top:342.9px;width:38px;height:17.30000000000001px;">64</div>
<div class="t d" style="left:357px;top:342.9px;width:34px;height:17.30000000000001px;">27</div>
<div class="t d" style="left:392px;top:342.9px;width:37px;height:17.30000000000001px;">25</div>
<div class="t d" style="left:430px;top:342.9px;width:52px;height:17.30000000000001px;">11&#8239;173</div>
<div class="t d" style="left:483px;top:342.9px;width:41px;height:17.30000000000001px;">3&#8239;615</div>
<div class="t d" style="left:525px;top:342.9px;width:37px;height:17.30000000000001px;">11</div>
<div class="t d" style="left:563px;top:342.9px;width:40px;height:17.30000000000001px;">605</div>
<div class="t d" style="left:604px;top:342.9px;width:36px;height:17.30000000000001px;">19</div>
<div class="t d" style="left:641px;top:342.9px;width:39px;height:17.30000000000001px;">753</div>
<div class="t d" style="left:681px;top:342.9px;width:35px;height:17.30000000000001px;">3</div>
<div class="t d" style="left:717px;top:342.9px;width:33px;height:17.30000000000001px;">287</div>
<div class="t d" style="left:751px;top:342.9px;width:32px;height:17.30000000000001px;">22</div>
<div class="t d" style="left:784px;top:342.9px;width:36px;height:17.30000000000001px;">1&#8239;139</div>
<div class="t d" style="left:821px;top:342.9px;width:29px;height:17.30000000000001px;">7</div>
<div class="t d" style="left:851px;top:342.9px;width:42px;height:17.30000000000001px;">335</div>
<div class="t d" style="left:894px;top:342.9px;width:33px;height:17.30000000000001px;">17</div>
<div class="t d" style="left:928px;top:342.9px;width:38px;height:17.30000000000001px;">496</div>
<div class="t d" style="left:967px;top:342.9px;width:38px;height:17.30000000000001px;">32,4</div>
<div class="t d" style="left:1006px;top:342.9px;width:56px;height:17.30000000000001px;">60</div>
<div class="t d" style="left:1063px;top:342.9px;width:43px;height:17.30000000000001px;">32,9</div>
<div class="r" style="left:1px;top:361px;width:19px;height:22px;background:#FFFFFF;"></div>
<div class="r" style="left:21px;top:361px;width:127px;height:22px;background:#FFFFCC;"></div>
<div class="r" style="left:149px;top:361px;width:37px;height:22px;background:#F6BB91;"></div>
<div class="r" style="left:187px;top:361px;width:60px;height:22px;background:#FAD1B2;"></div>
<div class="r" style="left:248px;top:361px;width:34px;height:22px;background:#FAD1B2;"></div>
<div class="r" style="left:283px;top:361px;width:34px;height:22px;background:#FAD1B2;"></div>
<div class="r" style="left:318px;top:361px;width:38px;height:22px;background:#FDE8D9;"></div>
<div class="r" style="left:357px;top:361px;width:34px;height:22px;background:#FDE8D9;"></div>
<div class="r" style="left:392px;top:361px;width:37px;height:22px;background:#FDE8D9;"></div>
<div class="r" style="left:430px;top:361px;width:52px;height:22px;background:#CCC0DA;"></div>
<div class="r" style="left:483px;top:361px;width:41px;height:22px;background:#D8E4BC;"></div>
<div class="r" style="left:525px;top:361px;width:37px;height:22px;background:#E6B8B7;"></div>
<div class="r" style="left:563px;top:361px;width:40px;height:22px;background:#F2DCDB;"></div>
<div class="r" style="left:604px;top:361px;width:36px;height:22px;background:#E6B8B7;"></div>
<div class="r" style="left:641px;top:361px;width:39px;height:22px;background:#F2DCDB;"></div>
<div class="r" style="left:681px;top:361px;width:35px;height:22px;background:#E6B8B7;"></div>
<div class="r" style="left:717px;top:361px;width:33px;height:22px;background:#F2DCDB;"></div>
<div class="r" style="left:751px;top:361px;width:32px;height:22px;background:#E6B8B7;"></div>
<div class="r" style="left:784px;top:361px;width:36px;height:22px;background:#F2DCDB;"></div>
<div class="r" style="left:821px;top:361px;width:29px;height:22px;background:#E6B8B7;"></div>
<div class="r" style="left:851px;top:361px;width:42px;height:22px;background:#F2DCDB;"></div>
<div class="r" style="left:894px;top:361px;width:33px;height:22px;background:#E6B8B7;"></div>
<div class="r" style="left:928px;top:361px;width:38px;height:22px;background:#F2DCDB;"></div>
<div class="r" style="left:967px;top:361px;width:38px;height:22px;background:#FFFF00;"></div>
<div class="r" style="left:1006px;top:361px;width:56px;height:22px;background:#DDD9C4;"></div>
<div class="r" style="left:1063px;top:361px;width:43px;height:22px;background:#FFFF00;"></div>
<div class="t num" style="left:0px;top:361px;width:18px;height:22px;align-items:flex-end;justify-content:center;padding-bottom:0px;font-size:11px;">8</div>
<div class="t nm" style="left:23px;top:361.8px;width:125px;height:22.0px;">Моркинский&nbsp; район</div>
<div class="t d" style="left:149px;top:361.2px;width:37px;height:21.30000000000001px;">67</div>
<div class="t d" style="left:187px;top:361.2px;width:60px;height:21.30000000000001px;">12</div>
<div class="t d" style="left:248px;top:361.2px;width:34px;height:21.30000000000001px;">50</div>
<div class="t d" style="left:283px;top:361.2px;width:34px;height:21.30000000000001px;">5</div>
<div class="t d" style="left:318px;top:361.2px;width:38px;height:21.30000000000001px;">42</div>
<div class="t d" style="left:357px;top:361.2px;width:34px;height:21.30000000000001px;">11</div>
<div class="t d" style="left:392px;top:361.2px;width:37px;height:21.30000000000001px;">18</div>
<div class="t d" style="left:430px;top:361.2px;width:52px;height:21.30000000000001px;">4&#8239;442</div>
<div class="t d" style="left:483px;top:361.2px;width:41px;height:21.30000000000001px;">1&#8239;395</div>
<div class="t d" style="left:525px;top:361.2px;width:37px;height:21.30000000000001px;">17</div>
<div class="t d" style="left:563px;top:361.2px;width:40px;height:21.30000000000001px;">418</div>
<div class="t d" style="left:604px;top:361.2px;width:36px;height:21.30000000000001px;">14</div>
<div class="t d" style="left:641px;top:361.2px;width:39px;height:21.30000000000001px;">261</div>
<div class="t d" style="left:681px;top:361.2px;width:35px;height:21.30000000000001px;">14</div>
<div class="t d" style="left:717px;top:361.2px;width:33px;height:21.30000000000001px;">294</div>
<div class="t d" style="left:751px;top:361.2px;width:32px;height:21.30000000000001px;">11</div>
<div class="t d" style="left:784px;top:361.2px;width:36px;height:21.30000000000001px;">222</div>
<div class="t d" style="left:821px;top:361.2px;width:29px;height:21.30000000000001px;">8</div>
<div class="t d" style="left:851px;top:361.2px;width:42px;height:21.30000000000001px;">139</div>
<div class="t d" style="left:894px;top:361.2px;width:33px;height:21.30000000000001px;">3</div>
<div class="t d" style="left:928px;top:361.2px;width:38px;height:21.30000000000001px;">61</div>
<div class="t d" style="left:967px;top:361.2px;width:38px;height:21.30000000000001px;">31,4</div>
<div class="t d" style="left:1006px;top:361.2px;width:56px;height:21.30000000000001px;">18</div>
<div class="t d" style="left:1063px;top:361.2px;width:43px;height:21.30000000000001px;">31,8</div>
<div class="r" style="left:1px;top:384px;width:19px;height:18px;background:#FFFFFF;"></div>
<div class="r" style="left:21px;top:384px;width:127px;height:18px;background:#FFFFCC;"></div>
<div class="r" style="left:149px;top:384px;width:37px;height:18px;background:#F6BB91;"></div>
<div class="r" style="left:187px;top:384px;width:60px;height:18px;background:#FAD1B2;"></div>
<div class="r" style="left:248px;top:384px;width:34px;height:18px;background:#FAD1B2;"></div>
<div class="r" style="left:283px;top:384px;width:34px;height:18px;background:#FF3300;"></div>
<div class="r" style="left:318px;top:384px;width:38px;height:18px;background:#FDE8D9;"></div>
<div class="r" style="left:357px;top:384px;width:34px;height:18px;background:#FDE8D9;"></div>
<div class="r" style="left:392px;top:384px;width:37px;height:18px;background:#FDE8D9;"></div>
<div class="r" style="left:430px;top:384px;width:52px;height:18px;background:#CCC0DA;"></div>
<div class="r" style="left:483px;top:384px;width:41px;height:18px;background:#D8E4BC;"></div>
<div class="r" style="left:525px;top:384px;width:37px;height:18px;background:#E6B8B7;"></div>
<div class="r" style="left:563px;top:384px;width:40px;height:18px;background:#F2DCDB;"></div>
<div class="r" style="left:604px;top:384px;width:36px;height:18px;background:#E6B8B7;"></div>
<div class="r" style="left:641px;top:384px;width:39px;height:18px;background:#F2DCDB;"></div>
<div class="r" style="left:681px;top:384px;width:35px;height:18px;background:#E6B8B7;"></div>
<div class="r" style="left:717px;top:384px;width:33px;height:18px;background:#F2DCDB;"></div>
<div class="r" style="left:751px;top:384px;width:32px;height:18px;background:#E6B8B7;"></div>
<div class="r" style="left:784px;top:384px;width:36px;height:18px;background:#F2DCDB;"></div>
<div class="r" style="left:821px;top:384px;width:29px;height:18px;background:#E6B8B7;"></div>
<div class="r" style="left:851px;top:384px;width:42px;height:18px;background:#F2DCDB;"></div>
<div class="r" style="left:894px;top:384px;width:33px;height:18px;background:#E6B8B7;"></div>
<div class="r" style="left:928px;top:384px;width:38px;height:18px;background:#F2DCDB;"></div>
<div class="r" style="left:967px;top:384px;width:38px;height:18px;background:#E26B0A;"></div>
<div class="r" style="left:1006px;top:384px;width:56px;height:18px;background:#DDD9C4;"></div>
<div class="r" style="left:1063px;top:384px;width:43px;height:18px;background:#E26B0A;"></div>
<div class="t num" style="left:0px;top:384px;width:18px;height:18px;align-items:flex-end;justify-content:center;padding-bottom:0px;font-size:11px;">9</div>
<div class="t nm" style="left:23px;top:384.8px;width:125px;height:18.0px;">Новоторъяльский&nbsp; район</div>
<div class="t d" style="left:149px;top:383.5px;width:37px;height:18.5px;">25</div>
<div class="t d" style="left:187px;top:383.5px;width:60px;height:18.5px;">12</div>
<div class="t d" style="left:248px;top:383.5px;width:34px;height:18.5px;">13</div>
<div class="t d" style="left:283px;top:383.5px;width:34px;height:18.5px;color:#4a0000;">0</div>
<div class="t d" style="left:318px;top:383.5px;width:38px;height:18.5px;">22</div>
<div class="t d" style="left:357px;top:383.5px;width:34px;height:18.5px;">6</div>
<div class="t d" style="left:392px;top:383.5px;width:37px;height:18.5px;">4</div>
<div class="t d" style="left:430px;top:383.5px;width:52px;height:18.5px;">1&#8239;907</div>
<div class="t d" style="left:483px;top:383.5px;width:41px;height:18.5px;">483</div>
<div class="t d" style="left:525px;top:383.5px;width:37px;height:18.5px;">9</div>
<div class="t d" style="left:563px;top:383.5px;width:40px;height:18.5px;">161</div>
<div class="t d" style="left:604px;top:383.5px;width:36px;height:18.5px;">2</div>
<div class="t d" style="left:641px;top:383.5px;width:39px;height:18.5px;">22</div>
<div class="t d" style="left:681px;top:383.5px;width:35px;height:18.5px;">5</div>
<div class="t d" style="left:717px;top:383.5px;width:33px;height:18.5px;">114</div>
<div class="t d" style="left:751px;top:383.5px;width:32px;height:18.5px;">3</div>
<div class="t d" style="left:784px;top:383.5px;width:36px;height:18.5px;">51</div>
<div class="t d" style="left:821px;top:383.5px;width:29px;height:18.5px;">2</div>
<div class="t d" style="left:851px;top:383.5px;width:42px;height:18.5px;">39</div>
<div class="t d" style="left:894px;top:383.5px;width:33px;height:18.5px;">4</div>
<div class="t d" style="left:928px;top:383.5px;width:38px;height:18.5px;">96</div>
<div class="t d" style="left:967px;top:383.5px;width:38px;height:18.5px;">25,3</div>
<div class="t d" style="left:1006px;top:383.5px;width:56px;height:18.5px;">0</div>
<div class="t d" style="left:1063px;top:383.5px;width:43px;height:18.5px;">25,3</div>
<div class="r" style="left:1px;top:403px;width:19px;height:14px;background:#FFFFFF;"></div>
<div class="r" style="left:21px;top:403px;width:127px;height:14px;background:#FFFFCC;"></div>
<div class="r" style="left:149px;top:403px;width:37px;height:14px;background:#F6BB91;"></div>
<div class="r" style="left:187px;top:403px;width:60px;height:14px;background:#FAD1B2;"></div>
<div class="r" style="left:248px;top:403px;width:34px;height:14px;background:#FAD1B2;"></div>
<div class="r" style="left:283px;top:403px;width:34px;height:14px;background:#FAD1B2;"></div>
<div class="r" style="left:318px;top:403px;width:38px;height:14px;background:#FDE8D9;"></div>
<div class="r" style="left:357px;top:403px;width:34px;height:14px;background:#FF3300;"></div>
<div class="r" style="left:392px;top:403px;width:37px;height:14px;background:#FDE8D9;"></div>
<div class="r" style="left:430px;top:403px;width:52px;height:14px;background:#CCC0DA;"></div>
<div class="r" style="left:483px;top:403px;width:41px;height:14px;background:#D8E4BC;"></div>
<div class="r" style="left:525px;top:403px;width:37px;height:14px;background:#E6B8B7;"></div>
<div class="r" style="left:563px;top:403px;width:40px;height:14px;background:#F2DCDB;"></div>
<div class="r" style="left:604px;top:403px;width:36px;height:14px;background:#FF0000;"></div>
<div class="r" style="left:641px;top:403px;width:39px;height:14px;background:#F2DCDB;"></div>
<div class="r" style="left:681px;top:403px;width:35px;height:14px;background:#E6B8B7;"></div>
<div class="r" style="left:717px;top:403px;width:33px;height:14px;background:#F2DCDB;"></div>
<div class="r" style="left:751px;top:403px;width:32px;height:14px;background:#FF0000;"></div>
<div class="r" style="left:784px;top:403px;width:36px;height:14px;background:#F2DCDB;"></div>
<div class="r" style="left:821px;top:403px;width:29px;height:14px;background:#E6B8B7;"></div>
<div class="r" style="left:851px;top:403px;width:42px;height:14px;background:#F2DCDB;"></div>
<div class="r" style="left:894px;top:403px;width:33px;height:14px;background:#E6B8B7;"></div>
<div class="r" style="left:928px;top:403px;width:38px;height:14px;background:#F2DCDB;"></div>
<div class="r" style="left:967px;top:403px;width:38px;height:14px;background:#FF0000;"></div>
<div class="r" style="left:1006px;top:403px;width:56px;height:14px;background:#DDD9C4;"></div>
<div class="r" style="left:1063px;top:403px;width:43px;height:14px;background:#FF0000;"></div>
<div class="t num" style="left:0px;top:403px;width:18px;height:14px;align-items:flex-end;justify-content:center;padding-bottom:0px;font-size:11px;">10</div>
<div class="t nm" style="left:23px;top:403.8px;width:125px;height:14.0px;">Оршанский&nbsp; район</div>
<div class="t d" style="left:149px;top:403.0px;width:37px;height:14.0px;">16</div>
<div class="t d" style="left:187px;top:403.0px;width:60px;height:14.0px;">4</div>
<div class="t d" style="left:248px;top:403.0px;width:34px;height:14.0px;">10</div>
<div class="t d" style="left:283px;top:403.0px;width:34px;height:14.0px;">2</div>
<div class="t d" style="left:318px;top:403.0px;width:38px;height:14.0px;">13</div>
<div class="t d" style="left:357px;top:403.0px;width:34px;height:14.0px;color:#4a0000;">2</div>
<div class="t d" style="left:392px;top:403.0px;width:37px;height:14.0px;">5</div>
<div class="t d" style="left:430px;top:403.0px;width:52px;height:14.0px;">1&#8239;918</div>
<div class="t d" style="left:483px;top:403.0px;width:41px;height:14.0px;">338</div>
<div class="t d" style="left:525px;top:403.0px;width:37px;height:14.0px;">3</div>
<div class="t d" style="left:563px;top:403.0px;width:40px;height:14.0px;">82</div>
<div class="t d" style="left:604px;top:403.0px;width:36px;height:14.0px;color:#4a0000;">1</div>
<div class="t d" style="left:641px;top:403.0px;width:39px;height:14.0px;">29</div>
<div class="t d" style="left:681px;top:403.0px;width:35px;height:14.0px;">2</div>
<div class="t d" style="left:717px;top:403.0px;width:33px;height:14.0px;">22</div>
<div class="t d" style="left:751px;top:403.0px;width:32px;height:14.0px;color:#4a0000;">1</div>
<div class="t d" style="left:784px;top:403.0px;width:36px;height:14.0px;">15</div>
<div class="t d" style="left:821px;top:403.0px;width:29px;height:14.0px;">6</div>
<div class="t d" style="left:851px;top:403.0px;width:42px;height:14.0px;">155</div>
<div class="t d" style="left:894px;top:403.0px;width:33px;height:14.0px;">3</div>
<div class="t d" style="left:928px;top:403.0px;width:38px;height:14.0px;">35</div>
<div class="t d" style="left:967px;top:403.0px;width:38px;height:14.0px;color:#4a0000;">17,6</div>
<div class="t d" style="left:1006px;top:403.0px;width:56px;height:14.0px;">36</div>
<div class="t d" style="left:1063px;top:403.0px;width:43px;height:14.0px;color:#4a0000;">19,5</div>
<div class="r" style="left:1px;top:418px;width:19px;height:15px;background:#FFFFFF;"></div>
<div class="r" style="left:21px;top:418px;width:127px;height:15px;background:#FFFFCC;"></div>
<div class="r" style="left:149px;top:418px;width:37px;height:15px;background:#F6BB91;"></div>
<div class="r" style="left:187px;top:418px;width:60px;height:15px;background:#FAD1B2;"></div>
<div class="r" style="left:248px;top:418px;width:34px;height:15px;background:#FAD1B2;"></div>
<div class="r" style="left:283px;top:418px;width:34px;height:15px;background:#FAD1B2;"></div>
<div class="r" style="left:318px;top:418px;width:38px;height:15px;background:#FDE8D9;"></div>
<div class="r" style="left:357px;top:418px;width:34px;height:15px;background:#FDE8D9;"></div>
<div class="r" style="left:392px;top:418px;width:37px;height:15px;background:#FDE8D9;"></div>
<div class="r" style="left:430px;top:418px;width:52px;height:15px;background:#CCC0DA;"></div>
<div class="r" style="left:483px;top:418px;width:41px;height:15px;background:#D8E4BC;"></div>
<div class="r" style="left:525px;top:418px;width:37px;height:15px;background:#E6B8B7;"></div>
<div class="r" style="left:563px;top:418px;width:40px;height:15px;background:#F2DCDB;"></div>
<div class="r" style="left:604px;top:418px;width:36px;height:15px;background:#E6B8B7;"></div>
<div class="r" style="left:641px;top:418px;width:39px;height:15px;background:#F2DCDB;"></div>
<div class="r" style="left:681px;top:418px;width:35px;height:15px;background:#E6B8B7;"></div>
<div class="r" style="left:717px;top:418px;width:33px;height:15px;background:#F2DCDB;"></div>
<div class="r" style="left:751px;top:418px;width:32px;height:15px;background:#E6B8B7;"></div>
<div class="r" style="left:784px;top:418px;width:36px;height:15px;background:#F2DCDB;"></div>
<div class="r" style="left:821px;top:418px;width:29px;height:15px;background:#E6B8B7;"></div>
<div class="r" style="left:851px;top:418px;width:42px;height:15px;background:#F2DCDB;"></div>
<div class="r" style="left:894px;top:418px;width:33px;height:15px;background:#E6B8B7;"></div>
<div class="r" style="left:928px;top:418px;width:38px;height:15px;background:#F2DCDB;"></div>
<div class="r" style="left:967px;top:418px;width:38px;height:15px;background:#00B050;"></div>
<div class="r" style="left:1006px;top:418px;width:56px;height:15px;background:#DDD9C4;"></div>
<div class="r" style="left:1063px;top:418px;width:43px;height:15px;background:#00B050;"></div>
<div class="t num" style="left:0px;top:418px;width:18px;height:15px;align-items:flex-end;justify-content:center;padding-bottom:0px;font-size:11px;">11</div>
<div class="t nm" style="left:23px;top:418.8px;width:125px;height:15.0px;">Параньгинский&nbsp; район</div>
<div class="t d" style="left:149px;top:418.0px;width:37px;height:14.699999999999989px;">38</div>
<div class="t d" style="left:187px;top:418.0px;width:60px;height:14.699999999999989px;">8</div>
<div class="t d" style="left:248px;top:418.0px;width:34px;height:14.699999999999989px;">28</div>
<div class="t d" style="left:283px;top:418.0px;width:34px;height:14.699999999999989px;">2</div>
<div class="t d" style="left:318px;top:418.0px;width:38px;height:14.699999999999989px;">36</div>
<div class="t d" style="left:357px;top:418.0px;width:34px;height:14.699999999999989px;">4</div>
<div class="t d" style="left:392px;top:418.0px;width:37px;height:14.699999999999989px;">6</div>
<div class="t d" style="left:430px;top:418.0px;width:52px;height:14.699999999999989px;">2&#8239;050</div>
<div class="t d" style="left:483px;top:418.0px;width:41px;height:14.699999999999989px;">1&#8239;008</div>
<div class="t d" style="left:525px;top:418.0px;width:37px;height:14.699999999999989px;">9</div>
<div class="t d" style="left:563px;top:418.0px;width:40px;height:14.699999999999989px;">537</div>
<div class="t d" style="left:604px;top:418.0px;width:36px;height:14.699999999999989px;">3</div>
<div class="t d" style="left:641px;top:418.0px;width:39px;height:14.699999999999989px;">83</div>
<div class="t d" style="left:681px;top:418.0px;width:35px;height:14.699999999999989px;">2</div>
<div class="t d" style="left:717px;top:418.0px;width:33px;height:14.699999999999989px;">31</div>
<div class="t d" style="left:751px;top:418.0px;width:32px;height:14.699999999999989px;">13</div>
<div class="t d" style="left:784px;top:418.0px;width:36px;height:14.699999999999989px;">192</div>
<div class="t d" style="left:821px;top:418.0px;width:29px;height:14.699999999999989px;">3</div>
<div class="t d" style="left:851px;top:418.0px;width:42px;height:14.699999999999989px;">34</div>
<div class="t d" style="left:894px;top:418.0px;width:33px;height:14.699999999999989px;">8</div>
<div class="t d" style="left:928px;top:418.0px;width:38px;height:14.699999999999989px;">131</div>
<div class="t d" style="left:967px;top:418.0px;width:38px;height:14.699999999999989px;">49,2</div>
<div class="t d" style="left:1006px;top:418.0px;width:56px;height:14.699999999999989px;">0</div>
<div class="t d" style="left:1063px;top:418.0px;width:43px;height:14.699999999999989px;">49,2</div>
<div class="r" style="left:1px;top:434px;width:19px;height:18px;background:#FFFFFF;"></div>
<div class="r" style="left:21px;top:434px;width:127px;height:18px;background:#FFFFCC;"></div>
<div class="r" style="left:149px;top:434px;width:37px;height:18px;background:#F6BB91;"></div>
<div class="r" style="left:187px;top:434px;width:60px;height:18px;background:#FAD1B2;"></div>
<div class="r" style="left:248px;top:434px;width:34px;height:18px;background:#FAD1B2;"></div>
<div class="r" style="left:283px;top:434px;width:34px;height:18px;background:#FAD1B2;"></div>
<div class="r" style="left:318px;top:434px;width:38px;height:18px;background:#FDE8D9;"></div>
<div class="r" style="left:357px;top:434px;width:34px;height:18px;background:#FDE8D9;"></div>
<div class="r" style="left:392px;top:434px;width:37px;height:18px;background:#FDE8D9;"></div>
<div class="r" style="left:430px;top:434px;width:52px;height:18px;background:#CCC0DA;"></div>
<div class="r" style="left:483px;top:434px;width:41px;height:18px;background:#D8E4BC;"></div>
<div class="r" style="left:525px;top:434px;width:37px;height:18px;background:#E6B8B7;"></div>
<div class="r" style="left:563px;top:434px;width:40px;height:18px;background:#F2DCDB;"></div>
<div class="r" style="left:604px;top:434px;width:36px;height:18px;background:#E6B8B7;"></div>
<div class="r" style="left:641px;top:434px;width:39px;height:18px;background:#F2DCDB;"></div>
<div class="r" style="left:681px;top:434px;width:35px;height:18px;background:#E6B8B7;"></div>
<div class="r" style="left:717px;top:434px;width:33px;height:18px;background:#F2DCDB;"></div>
<div class="r" style="left:751px;top:434px;width:32px;height:18px;background:#E6B8B7;"></div>
<div class="r" style="left:784px;top:434px;width:36px;height:18px;background:#F2DCDB;"></div>
<div class="r" style="left:821px;top:434px;width:29px;height:18px;background:#E6B8B7;"></div>
<div class="r" style="left:851px;top:434px;width:42px;height:18px;background:#F2DCDB;"></div>
<div class="r" style="left:894px;top:434px;width:33px;height:18px;background:#E6B8B7;"></div>
<div class="r" style="left:928px;top:434px;width:38px;height:18px;background:#F2DCDB;"></div>
<div class="r" style="left:967px;top:434px;width:38px;height:18px;background:#E26B0A;"></div>
<div class="r" style="left:1006px;top:434px;width:56px;height:18px;background:#DDD9C4;"></div>
<div class="r" style="left:1063px;top:434px;width:43px;height:18px;background:#E26B0A;"></div>
<div class="t num" style="left:0px;top:434px;width:18px;height:18px;align-items:flex-end;justify-content:center;padding-bottom:0px;font-size:11px;">12</div>
<div class="t nm" style="left:23px;top:434.8px;width:125px;height:18.0px;">Сернурский&nbsp; район</div>
<div class="t d" style="left:149px;top:433.7px;width:37px;height:17.80000000000001px;">47</div>
<div class="t d" style="left:187px;top:433.7px;width:60px;height:17.80000000000001px;">6</div>
<div class="t d" style="left:248px;top:433.7px;width:34px;height:17.80000000000001px;">38</div>
<div class="t d" style="left:283px;top:433.7px;width:34px;height:17.80000000000001px;">3</div>
<div class="t d" style="left:318px;top:433.7px;width:38px;height:17.80000000000001px;">39</div>
<div class="t d" style="left:357px;top:433.7px;width:34px;height:17.80000000000001px;">4</div>
<div class="t d" style="left:392px;top:433.7px;width:37px;height:17.80000000000001px;">6</div>
<div class="t d" style="left:430px;top:433.7px;width:52px;height:17.80000000000001px;">3&#8239;661</div>
<div class="t d" style="left:483px;top:433.7px;width:41px;height:17.80000000000001px;">837</div>
<div class="t d" style="left:525px;top:433.7px;width:37px;height:17.80000000000001px;">5</div>
<div class="t d" style="left:563px;top:433.7px;width:40px;height:17.80000000000001px;">107</div>
<div class="t d" style="left:604px;top:433.7px;width:36px;height:17.80000000000001px;">6</div>
<div class="t d" style="left:641px;top:433.7px;width:39px;height:17.80000000000001px;">108</div>
<div class="t d" style="left:681px;top:433.7px;width:35px;height:17.80000000000001px;">5</div>
<div class="t d" style="left:717px;top:433.7px;width:33px;height:17.80000000000001px;">84</div>
<div class="t d" style="left:751px;top:433.7px;width:32px;height:17.80000000000001px;">11</div>
<div class="t d" style="left:784px;top:433.7px;width:36px;height:17.80000000000001px;">141</div>
<div class="t d" style="left:821px;top:433.7px;width:29px;height:17.80000000000001px;">10</div>
<div class="t d" style="left:851px;top:433.7px;width:42px;height:17.80000000000001px;">159</div>
<div class="t d" style="left:894px;top:433.7px;width:33px;height:17.80000000000001px;">10</div>
<div class="t d" style="left:928px;top:433.7px;width:38px;height:17.80000000000001px;">238</div>
<div class="t d" style="left:967px;top:433.7px;width:38px;height:17.80000000000001px;">22,9</div>
<div class="t d" style="left:1006px;top:433.7px;width:56px;height:17.80000000000001px;">0</div>
<div class="t d" style="left:1063px;top:433.7px;width:43px;height:17.80000000000001px;">22,9</div>
<div class="r" style="left:1px;top:453px;width:19px;height:19px;background:#FFFFFF;"></div>
<div class="r" style="left:21px;top:453px;width:127px;height:19px;background:#FFFFCC;"></div>
<div class="r" style="left:149px;top:453px;width:37px;height:19px;background:#F6BB91;"></div>
<div class="r" style="left:187px;top:453px;width:60px;height:19px;background:#FAD1B2;"></div>
<div class="r" style="left:248px;top:453px;width:34px;height:19px;background:#FAD1B2;"></div>
<div class="r" style="left:283px;top:453px;width:34px;height:19px;background:#FAD1B2;"></div>
<div class="r" style="left:318px;top:453px;width:38px;height:19px;background:#FDE8D9;"></div>
<div class="r" style="left:357px;top:453px;width:34px;height:19px;background:#FDE8D9;"></div>
<div class="r" style="left:392px;top:453px;width:37px;height:19px;background:#FDE8D9;"></div>
<div class="r" style="left:430px;top:453px;width:52px;height:19px;background:#CCC0DA;"></div>
<div class="r" style="left:483px;top:453px;width:41px;height:19px;background:#D8E4BC;"></div>
<div class="r" style="left:525px;top:453px;width:37px;height:19px;background:#E6B8B7;"></div>
<div class="r" style="left:563px;top:453px;width:40px;height:19px;background:#F2DCDB;"></div>
<div class="r" style="left:604px;top:453px;width:36px;height:19px;background:#E6B8B7;"></div>
<div class="r" style="left:641px;top:453px;width:39px;height:19px;background:#F2DCDB;"></div>
<div class="r" style="left:681px;top:453px;width:35px;height:19px;background:#E6B8B7;"></div>
<div class="r" style="left:717px;top:453px;width:33px;height:19px;background:#F2DCDB;"></div>
<div class="r" style="left:751px;top:453px;width:32px;height:19px;background:#E6B8B7;"></div>
<div class="r" style="left:784px;top:453px;width:36px;height:19px;background:#F2DCDB;"></div>
<div class="r" style="left:821px;top:453px;width:29px;height:19px;background:#E6B8B7;"></div>
<div class="r" style="left:851px;top:453px;width:42px;height:19px;background:#F2DCDB;"></div>
<div class="r" style="left:894px;top:453px;width:33px;height:19px;background:#E6B8B7;"></div>
<div class="r" style="left:928px;top:453px;width:38px;height:19px;background:#F2DCDB;"></div>
<div class="r" style="left:967px;top:453px;width:38px;height:19px;background:#FF0000;"></div>
<div class="r" style="left:1006px;top:453px;width:56px;height:19px;background:#DDD9C4;"></div>
<div class="r" style="left:1063px;top:453px;width:43px;height:19px;background:#E26B0A;"></div>
<div class="t num" style="left:0px;top:453px;width:18px;height:19px;align-items:flex-end;justify-content:center;padding-bottom:0px;font-size:11px;">13</div>
<div class="t nm" style="left:23px;top:453.8px;width:125px;height:19.0px;">Советский&nbsp; район</div>
<div class="t d" style="left:149px;top:452.5px;width:37px;height:19.399999999999977px;">43</div>
<div class="t d" style="left:187px;top:452.5px;width:60px;height:19.399999999999977px;">12</div>
<div class="t d" style="left:248px;top:452.5px;width:34px;height:19.399999999999977px;">20</div>
<div class="t d" style="left:283px;top:452.5px;width:34px;height:19.399999999999977px;">11</div>
<div class="t d" style="left:318px;top:452.5px;width:38px;height:19.399999999999977px;">33</div>
<div class="t d" style="left:357px;top:452.5px;width:34px;height:19.399999999999977px;">12</div>
<div class="t d" style="left:392px;top:452.5px;width:37px;height:19.399999999999977px;">7</div>
<div class="t d" style="left:430px;top:452.5px;width:52px;height:19.399999999999977px;">4&#8239;627</div>
<div class="t d" style="left:483px;top:452.5px;width:41px;height:19.399999999999977px;">883</div>
<div class="t d" style="left:525px;top:452.5px;width:37px;height:19.399999999999977px;">9</div>
<div class="t d" style="left:563px;top:452.5px;width:40px;height:19.399999999999977px;">116</div>
<div class="t d" style="left:604px;top:452.5px;width:36px;height:19.399999999999977px;">5</div>
<div class="t d" style="left:641px;top:452.5px;width:39px;height:19.399999999999977px;">67</div>
<div class="t d" style="left:681px;top:452.5px;width:35px;height:19.399999999999977px;">5</div>
<div class="t d" style="left:717px;top:452.5px;width:33px;height:19.399999999999977px;">111</div>
<div class="t d" style="left:751px;top:452.5px;width:32px;height:19.399999999999977px;">2</div>
<div class="t d" style="left:784px;top:452.5px;width:36px;height:19.399999999999977px;">29</div>
<div class="t d" style="left:821px;top:452.5px;width:29px;height:19.399999999999977px;">6</div>
<div class="t d" style="left:851px;top:452.5px;width:42px;height:19.399999999999977px;">91</div>
<div class="t d" style="left:894px;top:452.5px;width:33px;height:19.399999999999977px;">16</div>
<div class="t d" style="left:928px;top:452.5px;width:38px;height:19.399999999999977px;">469</div>
<div class="t d" style="left:967px;top:452.5px;width:38px;height:19.399999999999977px;color:#4a0000;">19,1</div>
<div class="t d" style="left:1006px;top:452.5px;width:56px;height:19.399999999999977px;">44</div>
<div class="t d" style="left:1063px;top:452.5px;width:43px;height:19.399999999999977px;">20,0</div>
<div class="r" style="left:1px;top:473px;width:19px;height:19px;background:#FFFFFF;"></div>
<div class="r" style="left:21px;top:473px;width:127px;height:19px;background:#FFFFCC;"></div>
<div class="r" style="left:149px;top:473px;width:37px;height:19px;background:#F6BB91;"></div>
<div class="r" style="left:187px;top:473px;width:60px;height:19px;background:#FAD1B2;"></div>
<div class="r" style="left:248px;top:473px;width:34px;height:19px;background:#FAD1B2;"></div>
<div class="r" style="left:283px;top:473px;width:34px;height:19px;background:#FAD1B2;"></div>
<div class="r" style="left:318px;top:473px;width:38px;height:19px;background:#FDE8D9;"></div>
<div class="r" style="left:357px;top:473px;width:34px;height:19px;background:#FDE8D9;"></div>
<div class="r" style="left:392px;top:473px;width:37px;height:19px;background:#FDE8D9;"></div>
<div class="r" style="left:430px;top:473px;width:52px;height:19px;background:#CCC0DA;"></div>
<div class="r" style="left:483px;top:473px;width:41px;height:19px;background:#D8E4BC;"></div>
<div class="r" style="left:525px;top:473px;width:37px;height:19px;background:#E6B8B7;"></div>
<div class="r" style="left:563px;top:473px;width:40px;height:19px;background:#F2DCDB;"></div>
<div class="r" style="left:604px;top:473px;width:36px;height:19px;background:#E6B8B7;"></div>
<div class="r" style="left:641px;top:473px;width:39px;height:19px;background:#F2DCDB;"></div>
<div class="r" style="left:681px;top:473px;width:35px;height:19px;background:#E6B8B7;"></div>
<div class="r" style="left:717px;top:473px;width:33px;height:19px;background:#F2DCDB;"></div>
<div class="r" style="left:751px;top:473px;width:32px;height:19px;background:#E6B8B7;"></div>
<div class="r" style="left:784px;top:473px;width:36px;height:19px;background:#F2DCDB;"></div>
<div class="r" style="left:821px;top:473px;width:29px;height:19px;background:#E6B8B7;"></div>
<div class="r" style="left:851px;top:473px;width:42px;height:19px;background:#F2DCDB;"></div>
<div class="r" style="left:894px;top:473px;width:33px;height:19px;background:#E6B8B7;"></div>
<div class="r" style="left:928px;top:473px;width:38px;height:19px;background:#F2DCDB;"></div>
<div class="r" style="left:967px;top:473px;width:38px;height:19px;background:#FFFF00;"></div>
<div class="r" style="left:1006px;top:473px;width:56px;height:19px;background:#DDD9C4;"></div>
<div class="r" style="left:1063px;top:473px;width:43px;height:19px;background:#FFFF00;"></div>
<div class="t num" style="left:0px;top:473px;width:18px;height:19px;align-items:flex-end;justify-content:center;padding-bottom:0px;font-size:11px;">14</div>
<div class="t nm" style="left:23px;top:473.8px;width:125px;height:19.0px;">Юринский&nbsp; район</div>
<div class="t d" style="left:149px;top:472.9px;width:37px;height:19.30000000000001px;">20</div>
<div class="t d" style="left:187px;top:472.9px;width:60px;height:19.30000000000001px;">10</div>
<div class="t d" style="left:248px;top:472.9px;width:34px;height:19.30000000000001px;">8</div>
<div class="t d" style="left:283px;top:472.9px;width:34px;height:19.30000000000001px;">2</div>
<div class="t d" style="left:318px;top:472.9px;width:38px;height:19.30000000000001px;">14</div>
<div class="t d" style="left:357px;top:472.9px;width:34px;height:19.30000000000001px;">3</div>
<div class="t d" style="left:392px;top:472.9px;width:37px;height:19.30000000000001px;">6</div>
<div class="t d" style="left:430px;top:472.9px;width:52px;height:19.30000000000001px;">885</div>
<div class="t d" style="left:483px;top:472.9px;width:41px;height:19.30000000000001px;">315</div>
<div class="t d" style="left:525px;top:472.9px;width:37px;height:19.30000000000001px;">2</div>
<div class="t d" style="left:563px;top:472.9px;width:40px;height:19.30000000000001px;">35</div>
<div class="t d" style="left:604px;top:472.9px;width:36px;height:19.30000000000001px;">6</div>
<div class="t d" style="left:641px;top:472.9px;width:39px;height:19.30000000000001px;">104</div>
<div class="t d" style="left:681px;top:472.9px;width:35px;height:19.30000000000001px;">2</div>
<div class="t d" style="left:717px;top:472.9px;width:33px;height:19.30000000000001px;">30</div>
<div class="t d" style="left:751px;top:472.9px;width:32px;height:19.30000000000001px;">4</div>
<div class="t d" style="left:784px;top:472.9px;width:36px;height:19.30000000000001px;">65</div>
<div class="t d" style="left:821px;top:472.9px;width:29px;height:19.30000000000001px;">3</div>
<div class="t d" style="left:851px;top:472.9px;width:42px;height:19.30000000000001px;">41</div>
<div class="t d" style="left:894px;top:472.9px;width:33px;height:19.30000000000001px;">3</div>
<div class="t d" style="left:928px;top:472.9px;width:38px;height:19.30000000000001px;">40</div>
<div class="t d" style="left:967px;top:472.9px;width:38px;height:19.30000000000001px;">35,6</div>
<div class="t d" style="left:1006px;top:472.9px;width:56px;height:19.30000000000001px;">0</div>
<div class="t d" style="left:1063px;top:472.9px;width:43px;height:19.30000000000001px;">35,6</div>
<div class="r" style="left:1px;top:493px;width:19px;height:18px;background:#FFFFFF;"></div>
<div class="r" style="left:21px;top:493px;width:127px;height:18px;background:#FFFFCC;"></div>
<div class="r" style="left:149px;top:493px;width:37px;height:18px;background:#F6BB91;"></div>
<div class="r" style="left:187px;top:493px;width:60px;height:18px;background:#FAD1B2;"></div>
<div class="r" style="left:248px;top:493px;width:34px;height:18px;background:#FAD1B2;"></div>
<div class="r" style="left:283px;top:493px;width:34px;height:18px;background:#FAD1B2;"></div>
<div class="r" style="left:318px;top:493px;width:38px;height:18px;background:#FDE8D9;"></div>
<div class="r" style="left:357px;top:493px;width:34px;height:18px;background:#FDE8D9;"></div>
<div class="r" style="left:392px;top:493px;width:37px;height:18px;background:#FDE8D9;"></div>
<div class="r" style="left:430px;top:493px;width:52px;height:18px;background:#CCC0DA;"></div>
<div class="r" style="left:483px;top:493px;width:41px;height:18px;background:#D8E4BC;"></div>
<div class="r" style="left:525px;top:493px;width:37px;height:18px;background:#E6B8B7;"></div>
<div class="r" style="left:563px;top:493px;width:40px;height:18px;background:#F2DCDB;"></div>
<div class="r" style="left:604px;top:493px;width:36px;height:18px;background:#E6B8B7;"></div>
<div class="r" style="left:641px;top:493px;width:39px;height:18px;background:#F2DCDB;"></div>
<div class="r" style="left:681px;top:493px;width:35px;height:18px;background:#E6B8B7;"></div>
<div class="r" style="left:717px;top:493px;width:33px;height:18px;background:#F2DCDB;"></div>
<div class="r" style="left:751px;top:493px;width:32px;height:18px;background:#E6B8B7;"></div>
<div class="r" style="left:784px;top:493px;width:36px;height:18px;background:#F2DCDB;"></div>
<div class="r" style="left:821px;top:493px;width:29px;height:18px;background:#E6B8B7;"></div>
<div class="r" style="left:851px;top:493px;width:42px;height:18px;background:#F2DCDB;"></div>
<div class="r" style="left:894px;top:493px;width:33px;height:18px;background:#E6B8B7;"></div>
<div class="r" style="left:928px;top:493px;width:38px;height:18px;background:#F2DCDB;"></div>
<div class="r" style="left:967px;top:493px;width:38px;height:18px;background:#FF0000;"></div>
<div class="r" style="left:1006px;top:493px;width:56px;height:18px;background:#DDD9C4;"></div>
<div class="r" style="left:1063px;top:493px;width:43px;height:18px;background:#FF0000;"></div>
<div class="t num" style="left:0px;top:493px;width:18px;height:18px;align-items:flex-end;justify-content:center;padding-bottom:0px;font-size:11px;">15</div>
<div class="t nm" style="left:23px;top:493.8px;width:125px;height:18.0px;">г. Йошкар-Ола</div>
<div class="t d" style="left:149px;top:493.2px;width:37px;height:17.5px;">122</div>
<div class="t d" style="left:187px;top:493.2px;width:60px;height:17.5px;">15</div>
<div class="t d" style="left:248px;top:493.2px;width:34px;height:17.5px;">39</div>
<div class="t d" style="left:283px;top:493.2px;width:34px;height:17.5px;">68</div>
<div class="t d" style="left:318px;top:493.2px;width:38px;height:17.5px;">86</div>
<div class="t d" style="left:357px;top:493.2px;width:34px;height:17.5px;">68</div>
<div class="t d" style="left:392px;top:493.2px;width:37px;height:17.5px;">38</div>
<div class="t d" style="left:430px;top:493.2px;width:52px;height:17.5px;">53&#8239;019</div>
<div class="t d" style="left:483px;top:493.2px;width:41px;height:17.5px;">7&#8239;335</div>
<div class="t d" style="left:525px;top:493.2px;width:37px;height:17.5px;">31</div>
<div class="t d" style="left:563px;top:493.2px;width:40px;height:17.5px;">1&#8239;604</div>
<div class="t d" style="left:604px;top:493.2px;width:36px;height:17.5px;">7</div>
<div class="t d" style="left:641px;top:493.2px;width:39px;height:17.5px;">315</div>
<div class="t d" style="left:681px;top:493.2px;width:35px;height:17.5px;">5</div>
<div class="t d" style="left:717px;top:493.2px;width:33px;height:17.5px;">228</div>
<div class="t d" style="left:751px;top:493.2px;width:32px;height:17.5px;">8</div>
<div class="t d" style="left:784px;top:493.2px;width:36px;height:17.5px;">197</div>
<div class="t d" style="left:821px;top:493.2px;width:29px;height:17.5px;">27</div>
<div class="t d" style="left:851px;top:493.2px;width:42px;height:17.5px;">989</div>
<div class="t d" style="left:894px;top:493.2px;width:33px;height:17.5px;">44</div>
<div class="t d" style="left:928px;top:493.2px;width:38px;height:17.5px;">4&#8239;002</div>
<div class="t d" style="left:967px;top:493.2px;width:38px;height:17.5px;color:#4a0000;">13,8</div>
<div class="t d" style="left:1006px;top:493.2px;width:56px;height:17.5px;">2864</div>
<div class="t d" style="left:1063px;top:493.2px;width:43px;height:17.5px;color:#4a0000;">19,2</div>
<div class="r" style="left:1px;top:512px;width:19px;height:15px;background:#FFFFFF;"></div>
<div class="r" style="left:21px;top:512px;width:127px;height:15px;background:#FFFFCC;"></div>
<div class="r" style="left:149px;top:512px;width:37px;height:15px;background:#F6BB91;"></div>
<div class="r" style="left:187px;top:512px;width:60px;height:15px;background:#FAD1B2;"></div>
<div class="r" style="left:248px;top:512px;width:34px;height:15px;background:#FAD1B2;"></div>
<div class="r" style="left:283px;top:512px;width:34px;height:15px;background:#FAD1B2;"></div>
<div class="r" style="left:318px;top:512px;width:38px;height:15px;background:#FDE8D9;"></div>
<div class="r" style="left:357px;top:512px;width:34px;height:15px;background:#FDE8D9;"></div>
<div class="r" style="left:392px;top:512px;width:37px;height:15px;background:#FDE8D9;"></div>
<div class="r" style="left:430px;top:512px;width:52px;height:15px;background:#CCC0DA;"></div>
<div class="r" style="left:483px;top:512px;width:41px;height:15px;background:#D8E4BC;"></div>
<div class="r" style="left:525px;top:512px;width:37px;height:15px;background:#E6B8B7;"></div>
<div class="r" style="left:563px;top:512px;width:40px;height:15px;background:#F2DCDB;"></div>
<div class="r" style="left:604px;top:512px;width:36px;height:15px;background:#E6B8B7;"></div>
<div class="r" style="left:641px;top:512px;width:39px;height:15px;background:#F2DCDB;"></div>
<div class="r" style="left:681px;top:512px;width:35px;height:15px;background:#E6B8B7;"></div>
<div class="r" style="left:717px;top:512px;width:33px;height:15px;background:#F2DCDB;"></div>
<div class="r" style="left:751px;top:512px;width:32px;height:15px;background:#E6B8B7;"></div>
<div class="r" style="left:784px;top:512px;width:36px;height:15px;background:#F2DCDB;"></div>
<div class="r" style="left:821px;top:512px;width:29px;height:15px;background:#E6B8B7;"></div>
<div class="r" style="left:851px;top:512px;width:42px;height:15px;background:#F2DCDB;"></div>
<div class="r" style="left:894px;top:512px;width:33px;height:15px;background:#E6B8B7;"></div>
<div class="r" style="left:928px;top:512px;width:38px;height:15px;background:#F2DCDB;"></div>
<div class="r" style="left:967px;top:512px;width:38px;height:15px;background:#FFFF00;"></div>
<div class="r" style="left:1006px;top:512px;width:56px;height:15px;background:#DDD9C4;"></div>
<div class="r" style="left:1063px;top:512px;width:43px;height:15px;background:#FFFF00;"></div>
<div class="t num" style="left:0px;top:512px;width:18px;height:15px;align-items:flex-end;justify-content:center;padding-bottom:0px;font-size:11px;">16</div>
<div class="t nm" style="left:23px;top:512.8px;width:125px;height:15.0px;">г. Волжск</div>
<div class="t d" style="left:149px;top:511.7px;width:37px;height:15.300000000000011px;">60</div>
<div class="t d" style="left:187px;top:511.7px;width:60px;height:15.300000000000011px;">28</div>
<div class="t d" style="left:248px;top:511.7px;width:34px;height:15.300000000000011px;">15</div>
<div class="t d" style="left:283px;top:511.7px;width:34px;height:15.300000000000011px;">17</div>
<div class="t d" style="left:318px;top:511.7px;width:38px;height:15.300000000000011px;">43</div>
<div class="t d" style="left:357px;top:511.7px;width:34px;height:15.300000000000011px;">25</div>
<div class="t d" style="left:392px;top:511.7px;width:37px;height:15.300000000000011px;">23</div>
<div class="t d" style="left:430px;top:511.7px;width:52px;height:15.300000000000011px;">7&#8239;390</div>
<div class="t d" style="left:483px;top:511.7px;width:41px;height:15.300000000000011px;">2&#8239;419</div>
<div class="t d" style="left:525px;top:511.7px;width:37px;height:15.300000000000011px;">10</div>
<div class="t d" style="left:563px;top:511.7px;width:40px;height:15.300000000000011px;">774</div>
<div class="t d" style="left:604px;top:511.7px;width:36px;height:15.300000000000011px;">5</div>
<div class="t d" style="left:641px;top:511.7px;width:39px;height:15.300000000000011px;">89</div>
<div class="t d" style="left:681px;top:511.7px;width:35px;height:15.300000000000011px;">3</div>
<div class="t d" style="left:717px;top:511.7px;width:33px;height:15.300000000000011px;">55</div>
<div class="t d" style="left:751px;top:511.7px;width:32px;height:15.300000000000011px;">6</div>
<div class="t d" style="left:784px;top:511.7px;width:36px;height:15.300000000000011px;">111</div>
<div class="t d" style="left:821px;top:511.7px;width:29px;height:15.300000000000011px;">19</div>
<div class="t d" style="left:851px;top:511.7px;width:42px;height:15.300000000000011px;">369</div>
<div class="t d" style="left:894px;top:511.7px;width:33px;height:15.300000000000011px;">17</div>
<div class="t d" style="left:928px;top:511.7px;width:38px;height:15.300000000000011px;">1&#8239;021</div>
<div class="t d" style="left:967px;top:511.7px;width:38px;height:15.300000000000011px;">32,7</div>
<div class="t d" style="left:1006px;top:511.7px;width:56px;height:15.300000000000011px;">41</div>
<div class="t d" style="left:1063px;top:511.7px;width:43px;height:15.300000000000011px;">33,3</div>
<div class="r" style="left:1px;top:528px;width:19px;height:18px;background:#FFFFFF;"></div>
<div class="r" style="left:21px;top:528px;width:127px;height:18px;background:#FFFFCC;"></div>
<div class="r" style="left:149px;top:528px;width:37px;height:18px;background:#F6BB91;"></div>
<div class="r" style="left:187px;top:528px;width:60px;height:18px;background:#FAD1B2;"></div>
<div class="r" style="left:248px;top:528px;width:34px;height:18px;background:#FAD1B2;"></div>
<div class="r" style="left:283px;top:528px;width:34px;height:18px;background:#FAD1B2;"></div>
<div class="r" style="left:318px;top:528px;width:38px;height:18px;background:#FDE8D9;"></div>
<div class="r" style="left:357px;top:528px;width:34px;height:18px;background:#FDE8D9;"></div>
<div class="r" style="left:392px;top:528px;width:37px;height:18px;background:#FDE8D9;"></div>
<div class="r" style="left:430px;top:528px;width:52px;height:18px;background:#CCC0DA;"></div>
<div class="r" style="left:483px;top:528px;width:41px;height:18px;background:#D8E4BC;"></div>
<div class="r" style="left:525px;top:528px;width:37px;height:18px;background:#E6B8B7;"></div>
<div class="r" style="left:563px;top:528px;width:40px;height:18px;background:#F2DCDB;"></div>
<div class="r" style="left:604px;top:528px;width:36px;height:18px;background:#E6B8B7;"></div>
<div class="r" style="left:641px;top:528px;width:39px;height:18px;background:#F2DCDB;"></div>
<div class="r" style="left:681px;top:528px;width:35px;height:18px;background:#E6B8B7;"></div>
<div class="r" style="left:717px;top:528px;width:33px;height:18px;background:#F2DCDB;"></div>
<div class="r" style="left:751px;top:528px;width:32px;height:18px;background:#E6B8B7;"></div>
<div class="r" style="left:784px;top:528px;width:36px;height:18px;background:#F2DCDB;"></div>
<div class="r" style="left:821px;top:528px;width:29px;height:18px;background:#FF0000;"></div>
<div class="r" style="left:851px;top:528px;width:42px;height:18px;background:#FF3300;"></div>
<div class="r" style="left:894px;top:528px;width:33px;height:18px;background:#E6B8B7;"></div>
<div class="r" style="left:928px;top:528px;width:38px;height:18px;background:#F2DCDB;"></div>
<div class="r" style="left:967px;top:528px;width:38px;height:18px;background:#FFFF00;"></div>
<div class="r" style="left:1006px;top:528px;width:56px;height:18px;background:#DDD9C4;"></div>
<div class="r" style="left:1063px;top:528px;width:43px;height:18px;background:#FFFF00;"></div>
<div class="t num" style="left:0px;top:528px;width:18px;height:18px;align-items:flex-end;justify-content:center;padding-bottom:0px;font-size:11px;">17</div>
<div class="t nm" style="left:23px;top:528.8px;width:125px;height:18.0px;">г. Козьмодемьянск</div>
<div class="t d" style="left:149px;top:528.0px;width:37px;height:17.799999999999955px;">22</div>
<div class="t d" style="left:187px;top:528.0px;width:60px;height:17.799999999999955px;">6</div>
<div class="t d" style="left:248px;top:528.0px;width:34px;height:17.799999999999955px;">7</div>
<div class="t d" style="left:283px;top:528.0px;width:34px;height:17.799999999999955px;">9</div>
<div class="t d" style="left:318px;top:528.0px;width:38px;height:17.799999999999955px;">14</div>
<div class="t d" style="left:357px;top:528.0px;width:34px;height:17.799999999999955px;">10</div>
<div class="t d" style="left:392px;top:528.0px;width:37px;height:17.799999999999955px;">8</div>
<div class="t d" style="left:430px;top:528.0px;width:52px;height:17.799999999999955px;">3&#8239;352</div>
<div class="t d" style="left:483px;top:528.0px;width:41px;height:17.799999999999955px;">1&#8239;059</div>
<div class="t d" style="left:525px;top:528.0px;width:37px;height:17.799999999999955px;">4</div>
<div class="t d" style="left:563px;top:528.0px;width:40px;height:17.799999999999955px;">131</div>
<div class="t d" style="left:604px;top:528.0px;width:36px;height:17.799999999999955px;">6</div>
<div class="t d" style="left:641px;top:528.0px;width:39px;height:17.799999999999955px;">402</div>
<div class="t d" style="left:681px;top:528.0px;width:35px;height:17.799999999999955px;">4</div>
<div class="t d" style="left:717px;top:528.0px;width:33px;height:17.799999999999955px;">95</div>
<div class="t d" style="left:751px;top:528.0px;width:32px;height:17.799999999999955px;">3</div>
<div class="t d" style="left:784px;top:528.0px;width:36px;height:17.799999999999955px;">70</div>
<div class="t d" style="left:821px;top:528.0px;width:29px;height:17.799999999999955px;color:#4a0000;">0</div>
<div class="t d" style="left:851px;top:528.0px;width:42px;height:17.799999999999955px;color:#4a0000;">0</div>
<div class="t d" style="left:894px;top:528.0px;width:33px;height:17.799999999999955px;">5</div>
<div class="t d" style="left:928px;top:528.0px;width:38px;height:17.799999999999955px;">361</div>
<div class="t d" style="left:967px;top:528.0px;width:38px;height:17.799999999999955px;">31,6</div>
<div class="t d" style="left:1006px;top:528.0px;width:56px;height:17.799999999999955px;">92</div>
<div class="t d" style="left:1063px;top:528.0px;width:43px;height:17.799999999999955px;">34,3</div>
<div class="r" style="left:0px;top:547px;width:148px;height:14px;background:#FFFFCC;"></div>
<div class="r" style="left:149px;top:547px;width:37px;height:14px;background:#F6BB91;"></div>
<div class="r" style="left:187px;top:547px;width:60px;height:14px;background:#FAD1B2;"></div>
<div class="r" style="left:248px;top:547px;width:34px;height:14px;background:#FAD1B2;"></div>
<div class="r" style="left:283px;top:547px;width:34px;height:14px;background:#FAD1B2;"></div>
<div class="r" style="left:318px;top:547px;width:38px;height:14px;background:#FDE8D9;"></div>
<div class="r" style="left:357px;top:547px;width:34px;height:14px;background:#FDE8D9;"></div>
<div class="r" style="left:392px;top:547px;width:37px;height:14px;background:#FDE8D9;"></div>
<div class="r" style="left:430px;top:547px;width:52px;height:14px;background:#CCC0DA;"></div>
<div class="r" style="left:483px;top:547px;width:41px;height:14px;background:#D8E4BC;"></div>
<div class="r" style="left:525px;top:547px;width:37px;height:14px;background:#E6B8B7;"></div>
<div class="r" style="left:563px;top:547px;width:40px;height:14px;background:#F2DCDB;"></div>
<div class="r" style="left:604px;top:547px;width:36px;height:14px;background:#E6B8B7;"></div>
<div class="r" style="left:641px;top:547px;width:39px;height:14px;background:#F2DCDB;"></div>
<div class="r" style="left:681px;top:547px;width:35px;height:14px;background:#E6B8B7;"></div>
<div class="r" style="left:717px;top:547px;width:33px;height:14px;background:#F2DCDB;"></div>
<div class="r" style="left:751px;top:547px;width:32px;height:14px;background:#E6B8B7;"></div>
<div class="r" style="left:784px;top:547px;width:36px;height:14px;background:#F2DCDB;"></div>
<div class="r" style="left:821px;top:547px;width:29px;height:14px;background:#E6B8B7;"></div>
<div class="r" style="left:851px;top:547px;width:42px;height:14px;background:#F2DCDB;"></div>
<div class="r" style="left:894px;top:547px;width:33px;height:14px;background:#E6B8B7;"></div>
<div class="r" style="left:928px;top:547px;width:38px;height:14px;background:#F2DCDB;"></div>
<div class="r" style="left:967px;top:547px;width:38px;height:14px;background:#E26B0A;"></div>
<div class="r" style="left:1006px;top:547px;width:56px;height:14px;background:#DDD9C4;"></div>
<div class="r" style="left:1063px;top:547px;width:43px;height:14px;background:#E26B0A;"></div>
<div class="t d b" style="left:0px;top:546px;width:148px;height:14px;font-size:9.5px;">ИТОГО</div>
<div class="t d b" style="left:149px;top:547px;width:37px;height:14px;">743</div>
<div class="t d b" style="left:187px;top:547px;width:60px;height:14px;">167</div>
<div class="t d b" style="left:248px;top:547px;width:34px;height:14px;">399</div>
<div class="t d b" style="left:283px;top:547px;width:34px;height:14px;">177</div>
<div class="t d b" style="left:318px;top:547px;width:38px;height:14px;">564</div>
<div class="t d b" style="left:357px;top:547px;width:34px;height:14px;">239</div>
<div class="t d b" style="left:392px;top:547px;width:37px;height:14px;">213</div>
<div class="t d b" style="left:430px;top:547px;width:52px;height:14px;">113&#8239;068</div>
<div class="t d b" style="left:483px;top:547px;width:41px;height:14px;">23&#8239;980</div>
<div class="t d b" style="left:525px;top:547px;width:37px;height:14px;">164</div>
<div class="t d b" style="left:563px;top:547px;width:40px;height:14px;">5&#8239;750</div>
<div class="t d b" style="left:604px;top:547px;width:36px;height:14px;">110</div>
<div class="t d b" style="left:641px;top:547px;width:39px;height:14px;">2&#8239;880</div>
<div class="t d b" style="left:681px;top:547px;width:35px;height:14px;">66</div>
<div class="t d b" style="left:717px;top:547px;width:33px;height:14px;">1&#8239;756</div>
<div class="t d b" style="left:751px;top:547px;width:32px;height:14px;">108</div>
<div class="t d b" style="left:784px;top:547px;width:36px;height:14px;">2&#8239;763</div>
<div class="t d b" style="left:821px;top:547px;width:29px;height:14px;">131</div>
<div class="t d b" style="left:851px;top:547px;width:42px;height:14px;">3&#8239;019</div>
<div class="t d b" style="left:894px;top:547px;width:33px;height:14px;">164</div>
<div class="t d b" style="left:928px;top:547px;width:38px;height:14px;">7&#8239;812</div>
<div class="t d b" style="left:967px;top:547px;width:38px;height:14px;">21,2</div>
<div class="t d b" style="left:1006px;top:547px;width:56px;height:14px;">3194</div>
<div class="t d b" style="left:1063px;top:547px;width:43px;height:14px;">24,0</div>
<div class="r" style="left:1107px;top:67px;width:3px;height:162px;background:#E4DAC6;"></div>
<div class="r" style="left:1107px;top:230px;width:3px;height:331px;background:#ECE6DC;"></div>
<div class="r" style="left:0px;top:65px;width:1110px;height:1px;background:rgba(0,0,0,0.35);"></div>
<div class="r" style="left:0px;top:66px;width:1110px;height:1px;background:rgba(0,0,0,1.00);"></div>
<div class="r" style="left:0px;top:67px;width:1110px;height:1px;background:rgba(0,0,0,0.15);"></div>
<div class="r" style="left:19px;top:66px;width:1px;height:496px;background:rgba(0,0,0,0.45);"></div>
<div class="r" style="left:20px;top:66px;width:1px;height:496px;background:rgba(0,0,0,1.00);"></div>
<div class="r" style="left:21px;top:66px;width:1px;height:496px;background:rgba(0,0,0,0.05);"></div>
<div class="r" style="left:147px;top:66px;width:1px;height:496px;background:rgba(0,0,0,0.15);"></div>
<div class="r" style="left:148px;top:66px;width:1px;height:496px;background:rgba(0,0,0,1.00);"></div>
<div class="r" style="left:149px;top:66px;width:1px;height:496px;background:rgba(0,0,0,0.35);"></div>
<div class="r" style="left:185px;top:66px;width:1px;height:496px;background:rgba(0,0,0,0.35);"></div>
<div class="r" style="left:186px;top:66px;width:1px;height:496px;background:rgba(0,0,0,1.00);"></div>
<div class="r" style="left:187px;top:66px;width:1px;height:496px;background:rgba(0,0,0,0.15);"></div>
<div class="r" style="left:246px;top:126px;width:1px;height:436px;background:rgba(0,0,0,0.45);"></div>
<div class="r" style="left:247px;top:126px;width:1px;height:436px;background:rgba(0,0,0,1.00);"></div>
<div class="r" style="left:248px;top:126px;width:1px;height:436px;background:rgba(0,0,0,0.05);"></div>
<div class="r" style="left:281px;top:126px;width:1px;height:436px;background:rgba(0,0,0,0.35);"></div>
<div class="r" style="left:282px;top:126px;width:1px;height:436px;background:rgba(0,0,0,1.00);"></div>
<div class="r" style="left:283px;top:126px;width:1px;height:436px;background:rgba(0,0,0,0.15);"></div>
<div class="r" style="left:316px;top:66px;width:1px;height:496px;background:rgba(0,0,0,0.25);"></div>
<div class="r" style="left:317px;top:66px;width:1px;height:496px;background:rgba(0,0,0,1.00);"></div>
<div class="r" style="left:318px;top:66px;width:1px;height:496px;background:rgba(0,0,0,0.25);"></div>
<div class="r" style="left:355px;top:126px;width:1px;height:436px;background:rgba(0,0,0,0.05);"></div>
<div class="r" style="left:356px;top:126px;width:1px;height:436px;background:rgba(0,0,0,1.00);"></div>
<div class="r" style="left:357px;top:126px;width:1px;height:436px;background:rgba(0,0,0,0.45);"></div>
<div class="r" style="left:390px;top:126px;width:1px;height:436px;background:rgba(0,0,0,0.35);"></div>
<div class="r" style="left:391px;top:126px;width:1px;height:436px;background:rgba(0,0,0,1.00);"></div>
<div class="r" style="left:392px;top:126px;width:1px;height:436px;background:rgba(0,0,0,0.15);"></div>
<div class="r" style="left:428px;top:66px;width:1px;height:496px;background:rgba(0,0,0,0.25);"></div>
<div class="r" style="left:429px;top:66px;width:1px;height:496px;background:rgba(0,0,0,1.00);"></div>
<div class="r" style="left:430px;top:66px;width:1px;height:496px;background:rgba(0,0,0,0.25);"></div>
<div class="r" style="left:481px;top:66px;width:1px;height:496px;background:rgba(0,0,0,0.05);"></div>
<div class="r" style="left:482px;top:66px;width:1px;height:496px;background:rgba(0,0,0,1.00);"></div>
<div class="r" style="left:483px;top:66px;width:1px;height:496px;background:rgba(0,0,0,0.45);"></div>
<div class="r" style="left:523px;top:66px;width:1px;height:496px;background:rgba(0,0,0,0.75);"></div>
<div class="r" style="left:524px;top:66px;width:1px;height:496px;background:rgba(0,0,0,0.75);"></div>
<div class="r" style="left:561px;top:126px;width:1px;height:436px;background:rgba(0,0,0,0.35);"></div>
<div class="r" style="left:562px;top:126px;width:1px;height:436px;background:rgba(0,0,0,1.00);"></div>
<div class="r" style="left:563px;top:126px;width:1px;height:436px;background:rgba(0,0,0,0.15);"></div>
<div class="r" style="left:603px;top:126px;width:1px;height:436px;background:rgba(0,0,0,1.00);"></div>
<div class="r" style="left:604px;top:126px;width:1px;height:436px;background:rgba(0,0,0,0.45);"></div>
<div class="r" style="left:640px;top:126px;width:1px;height:436px;background:rgba(0,0,0,1.00);"></div>
<div class="r" style="left:641px;top:126px;width:1px;height:436px;background:rgba(0,0,0,0.45);"></div>
<div class="r" style="left:680px;top:126px;width:1px;height:436px;background:rgba(0,0,0,1.00);"></div>
<div class="r" style="left:681px;top:126px;width:1px;height:436px;background:rgba(0,0,0,0.45);"></div>
<div class="r" style="left:715px;top:126px;width:1px;height:436px;background:rgba(0,0,0,0.25);"></div>
<div class="r" style="left:716px;top:126px;width:1px;height:436px;background:rgba(0,0,0,1.00);"></div>
<div class="r" style="left:717px;top:126px;width:1px;height:436px;background:rgba(0,0,0,0.25);"></div>
<div class="r" style="left:750px;top:126px;width:1px;height:436px;background:rgba(0,0,0,1.00);"></div>
<div class="r" style="left:751px;top:126px;width:1px;height:436px;background:rgba(0,0,0,0.45);"></div>
<div class="r" style="left:782px;top:126px;width:1px;height:436px;background:rgba(0,0,0,0.45);"></div>
<div class="r" style="left:783px;top:126px;width:1px;height:436px;background:rgba(0,0,0,1.00);"></div>
<div class="r" style="left:820px;top:126px;width:1px;height:436px;background:rgba(0,0,0,1.00);"></div>
<div class="r" style="left:821px;top:126px;width:1px;height:436px;background:rgba(0,0,0,0.45);"></div>
<div class="r" style="left:849px;top:126px;width:1px;height:436px;background:rgba(0,0,0,0.35);"></div>
<div class="r" style="left:850px;top:126px;width:1px;height:436px;background:rgba(0,0,0,1.00);"></div>
<div class="r" style="left:851px;top:126px;width:1px;height:436px;background:rgba(0,0,0,0.15);"></div>
<div class="r" style="left:892px;top:126px;width:1px;height:436px;background:rgba(0,0,0,0.45);"></div>
<div class="r" style="left:893px;top:126px;width:1px;height:436px;background:rgba(0,0,0,1.00);"></div>
<div class="r" style="left:926px;top:126px;width:1px;height:436px;background:rgba(0,0,0,0.55);"></div>
<div class="r" style="left:927px;top:126px;width:1px;height:436px;background:rgba(0,0,0,0.95);"></div>
<div class="r" style="left:965px;top:66px;width:1px;height:496px;background:rgba(0,0,0,0.45);"></div>
<div class="r" style="left:966px;top:66px;width:1px;height:496px;background:rgba(0,0,0,1.00);"></div>
<div class="r" style="left:1004px;top:66px;width:1px;height:496px;background:rgba(0,0,0,0.25);"></div>
<div class="r" style="left:1005px;top:66px;width:1px;height:496px;background:rgba(0,0,0,1.00);"></div>
<div class="r" style="left:1006px;top:66px;width:1px;height:496px;background:rgba(0,0,0,0.25);"></div>
<div class="r" style="left:1061px;top:66px;width:1px;height:496px;background:rgba(0,0,0,0.35);"></div>
<div class="r" style="left:1062px;top:66px;width:1px;height:496px;background:rgba(0,0,0,1.00);"></div>
<div class="r" style="left:1063px;top:66px;width:1px;height:496px;background:rgba(0,0,0,0.15);"></div>
<div class="r" style="left:1105px;top:66px;width:1px;height:496px;background:rgba(0,0,0,0.45);"></div>
<div class="r" style="left:1106px;top:66px;width:1px;height:496px;background:rgba(0,0,0,1.00);"></div>
<div class="r" style="left:186px;top:125px;width:244px;height:1px;background:rgba(0,0,0,0.35);"></div>
<div class="r" style="left:186px;top:126px;width:244px;height:1px;background:rgba(0,0,0,1.00);"></div>
<div class="r" style="left:186px;top:127px;width:244px;height:1px;background:rgba(0,0,0,0.15);"></div>
<div class="r" style="left:524px;top:125px;width:443px;height:1px;background:rgba(0,0,0,0.35);"></div>
<div class="r" style="left:524px;top:126px;width:443px;height:1px;background:rgba(0,0,0,1.00);"></div>
<div class="r" style="left:524px;top:127px;width:443px;height:1px;background:rgba(0,0,0,0.15);"></div>
<div class="r" style="left:0px;top:228px;width:1110px;height:1px;background:rgba(0,0,0,0.25);"></div>
<div class="r" style="left:0px;top:229px;width:1110px;height:1px;background:rgba(0,0,0,1.00);"></div>
<div class="r" style="left:0px;top:230px;width:1110px;height:1px;background:rgba(0,0,0,0.25);"></div>
<div class="r" style="left:0px;top:247px;width:1110px;height:1px;background:rgba(0,0,0,0.15);"></div>
<div class="r" style="left:0px;top:248px;width:1110px;height:1px;background:rgba(0,0,0,1.00);"></div>
<div class="r" style="left:0px;top:249px;width:1110px;height:1px;background:rgba(0,0,0,0.35);"></div>
<div class="r" style="left:0px;top:267px;width:1110px;height:1px;background:rgba(0,0,0,0.75);"></div>
<div class="r" style="left:0px;top:268px;width:1110px;height:1px;background:rgba(0,0,0,0.75);"></div>
<div class="r" style="left:0px;top:286px;width:1110px;height:1px;background:rgba(0,0,0,0.75);"></div>
<div class="r" style="left:0px;top:287px;width:1110px;height:1px;background:rgba(0,0,0,0.75);"></div>
<div class="r" style="left:0px;top:304px;width:1110px;height:1px;background:rgba(0,0,0,0.45);"></div>
<div class="r" style="left:0px;top:305px;width:1110px;height:1px;background:rgba(0,0,0,1.00);"></div>
<div class="r" style="left:0px;top:306px;width:1110px;height:1px;background:rgba(0,0,0,0.05);"></div>
<div class="r" style="left:0px;top:322px;width:1110px;height:1px;background:rgba(0,0,0,0.05);"></div>
<div class="r" style="left:0px;top:323px;width:1110px;height:1px;background:rgba(0,0,0,1.00);"></div>
<div class="r" style="left:0px;top:324px;width:1110px;height:1px;background:rgba(0,0,0,0.45);"></div>
<div class="r" style="left:0px;top:341px;width:1110px;height:1px;background:rgba(0,0,0,0.35);"></div>
<div class="r" style="left:0px;top:342px;width:1110px;height:1px;background:rgba(0,0,0,1.00);"></div>
<div class="r" style="left:0px;top:343px;width:1110px;height:1px;background:rgba(0,0,0,0.15);"></div>
<div class="r" style="left:0px;top:359px;width:1110px;height:1px;background:rgba(0,0,0,0.05);"></div>
<div class="r" style="left:0px;top:360px;width:1110px;height:1px;background:rgba(0,0,0,1.00);"></div>
<div class="r" style="left:0px;top:361px;width:1110px;height:1px;background:rgba(0,0,0,0.45);"></div>
<div class="r" style="left:0px;top:382px;width:1110px;height:1px;background:rgba(0,0,0,0.75);"></div>
<div class="r" style="left:0px;top:383px;width:1110px;height:1px;background:rgba(0,0,0,0.75);"></div>
<div class="r" style="left:0px;top:401px;width:1110px;height:1px;background:rgba(0,0,0,0.25);"></div>
<div class="r" style="left:0px;top:402px;width:1110px;height:1px;background:rgba(0,0,0,1.00);"></div>
<div class="r" style="left:0px;top:403px;width:1110px;height:1px;background:rgba(0,0,0,0.25);"></div>
<div class="r" style="left:0px;top:416px;width:1110px;height:1px;background:rgba(0,0,0,0.25);"></div>
<div class="r" style="left:0px;top:417px;width:1110px;height:1px;background:rgba(0,0,0,1.00);"></div>
<div class="r" style="left:0px;top:418px;width:1110px;height:1px;background:rgba(0,0,0,0.25);"></div>
<div class="r" style="left:0px;top:432px;width:1110px;height:1px;background:rgba(0,0,0,0.55);"></div>
<div class="r" style="left:0px;top:433px;width:1110px;height:1px;background:rgba(0,0,0,0.95);"></div>
<div class="r" style="left:0px;top:451px;width:1110px;height:1px;background:rgba(0,0,0,0.75);"></div>
<div class="r" style="left:0px;top:452px;width:1110px;height:1px;background:rgba(0,0,0,0.75);"></div>
<div class="r" style="left:0px;top:471px;width:1110px;height:1px;background:rgba(0,0,0,0.35);"></div>
<div class="r" style="left:0px;top:472px;width:1110px;height:1px;background:rgba(0,0,0,1.00);"></div>
<div class="r" style="left:0px;top:473px;width:1110px;height:1px;background:rgba(0,0,0,0.15);"></div>
<div class="r" style="left:0px;top:491px;width:1110px;height:1px;background:rgba(0,0,0,0.05);"></div>
<div class="r" style="left:0px;top:492px;width:1110px;height:1px;background:rgba(0,0,0,1.00);"></div>
<div class="r" style="left:0px;top:493px;width:1110px;height:1px;background:rgba(0,0,0,0.45);"></div>
<div class="r" style="left:0px;top:510px;width:1110px;height:1px;background:rgba(0,0,0,0.55);"></div>
<div class="r" style="left:0px;top:511px;width:1110px;height:1px;background:rgba(0,0,0,0.95);"></div>
<div class="r" style="left:0px;top:526px;width:1110px;height:1px;background:rgba(0,0,0,0.25);"></div>
<div class="r" style="left:0px;top:527px;width:1110px;height:1px;background:rgba(0,0,0,1.00);"></div>
<div class="r" style="left:0px;top:528px;width:1110px;height:1px;background:rgba(0,0,0,0.25);"></div>
<div class="r" style="left:0px;top:545px;width:1110px;height:1px;background:rgba(0,0,0,0.45);"></div>
<div class="r" style="left:0px;top:546px;width:1110px;height:1px;background:rgba(0,0,0,1.00);"></div>
<div class="r" style="left:0px;top:560px;width:1110px;height:1px;background:rgba(0,0,0,0.55);"></div>
<div class="r" style="left:0px;top:561px;width:1110px;height:1px;background:rgba(0,0,0,0.95);"></div>
<div class="r" style="left:19px;top:547px;width:3px;height:13px;background:#FFFFCC;"></div>
<div style="position:absolute;left:15px;top:67px;width:0;height:0;border-top:5px solid #E00000;border-left:5px solid transparent;"></div>
</body></html>
